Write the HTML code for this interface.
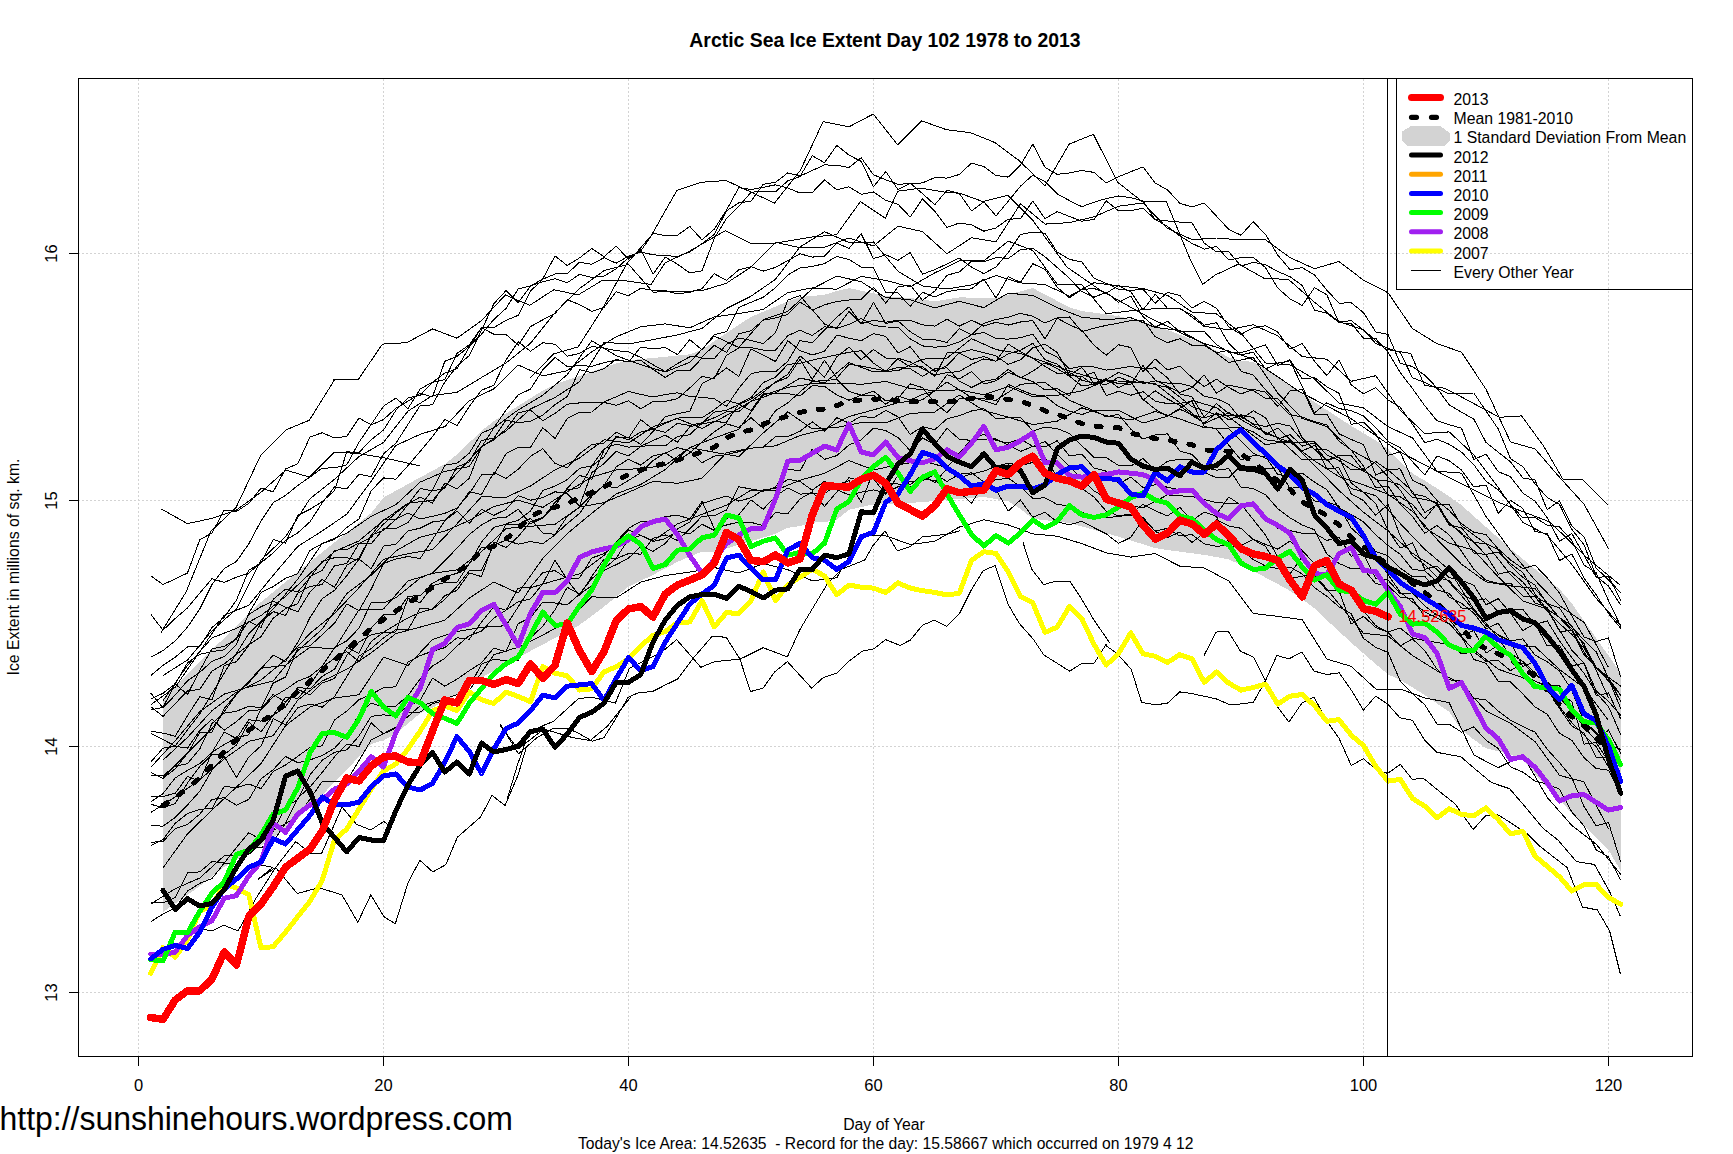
<!DOCTYPE html>
<html><head><meta charset="utf-8"><title>Arctic Sea Ice Extent</title>
<style>html,body{margin:0;padding:0;background:#fff;}svg{display:block;}</style></head>
<body><svg width="1733" height="1154" viewBox="0 0 1733 1154">
<rect width="1733" height="1154" fill="#fff"/>
<g stroke="#d3d3d3" stroke-width="1" stroke-dasharray="2 2" shape-rendering="crispEdges"><line x1="138.5" y1="79" x2="138.5" y2="1056" /><line x1="383.5" y1="79" x2="383.5" y2="1056" /><line x1="628.5" y1="79" x2="628.5" y2="1056" /><line x1="873.5" y1="79" x2="873.5" y2="1056" /><line x1="1118.5" y1="79" x2="1118.5" y2="1056" /><line x1="1363.5" y1="79" x2="1363.5" y2="1056" /><line x1="1608.5" y1="79" x2="1608.5" y2="1056" /><line x1="78" y1="992.5" x2="1692" y2="992.5" /><line x1="78" y1="746.5" x2="1692" y2="746.5" /><line x1="78" y1="500.5" x2="1692" y2="500.5" /><line x1="78" y1="253.5" x2="1692" y2="253.5" /></g>
<polygon points="163.00,698.80 175.25,686.51 187.50,674.21 199.75,661.92 212.00,649.83 224.25,637.87 236.50,625.91 248.75,613.96 261.00,602.00 273.25,592.00 285.50,582.00 297.75,572.00 310.00,562.00 322.25,552.11 334.50,542.33 346.75,532.56 359.00,522.78 371.25,513.00 383.50,497.57 395.75,490.81 408.00,484.06 420.25,477.36 432.50,470.75 444.75,464.14 457.00,454.44 469.25,442.66 481.50,430.89 493.75,421.18 506.00,413.53 518.25,405.88 530.50,398.24 542.75,390.59 555.00,384.32 567.25,380.12 579.50,375.92 591.75,371.72 604.00,367.52 616.25,363.32 628.50,360.33 640.75,359.14 653.00,357.95 665.25,356.77 677.50,355.58 689.75,354.39 702.00,349.64 714.25,341.31 726.50,332.99 738.75,324.66 751.00,316.96 763.25,311.76 775.50,306.56 787.75,301.36 800.00,297.00 812.25,296.00 824.50,294.74 836.75,291.14 849.00,288.15 861.25,290.68 873.50,293.20 885.75,296.20 898.00,297.12 910.25,298.03 922.50,299.52 934.75,301.40 947.00,299.40 959.25,297.40 971.50,297.59 983.75,298.01 996.00,298.06 1008.25,294.71 1020.50,291.35 1032.75,288.00 1045.00,294.47 1057.25,300.94 1069.50,307.41 1081.75,311.01 1094.00,312.68 1106.25,314.36 1118.50,316.26 1130.75,319.04 1143.00,321.83 1155.25,325.35 1167.50,329.98 1179.75,334.61 1192.00,339.23 1204.25,344.06 1216.50,350.70 1228.75,357.34 1241.00,360.71 1253.25,361.88 1265.50,369.31 1277.75,377.44 1290.00,385.56 1302.25,393.70 1314.50,401.85 1326.75,410.00 1339.00,418.14 1351.25,425.81 1363.50,433.16 1375.75,440.52 1388.00,448.96 1400.25,461.76 1412.50,473.43 1424.75,480.57 1437.00,488.46 1449.25,496.54 1461.50,505.18 1473.75,516.09 1486.00,527.00 1498.25,537.91 1510.50,548.82 1522.75,559.00 1535.00,569.00 1547.25,579.00 1559.50,589.00 1571.75,603.43 1584.00,620.83 1596.25,638.22 1608.50,655.61 1620.75,673.00 1620.75,871.00 1608.50,850.00 1596.25,837.60 1584.00,825.20 1571.75,812.80 1559.50,800.40 1547.25,788.00 1535.00,774.00 1522.75,760.00 1510.50,754.50 1498.25,751.20 1486.00,748.20 1473.75,739.48 1461.50,730.13 1449.25,712.00 1437.00,703.50 1424.75,695.00 1412.50,687.41 1400.25,680.04 1388.00,674.35 1375.75,664.18 1363.50,653.48 1351.25,642.65 1339.00,631.47 1326.75,620.00 1314.50,608.33 1302.25,599.26 1290.00,590.84 1277.75,584.09 1265.50,577.51 1253.25,570.99 1241.00,564.88 1228.75,559.52 1216.50,557.09 1204.25,554.91 1192.00,553.26 1179.75,551.62 1167.50,549.98 1155.25,548.12 1143.00,544.28 1130.75,540.45 1118.50,536.66 1106.25,533.24 1094.00,529.83 1081.75,526.41 1069.50,523.00 1057.25,521.59 1045.00,520.19 1032.75,518.78 1020.50,509.07 1008.25,501.17 996.00,499.08 983.75,497.00 971.50,498.00 959.25,499.00 947.00,500.00 934.75,501.00 922.50,502.00 910.25,503.00 898.00,503.47 885.75,503.93 873.50,504.40 861.25,507.10 849.00,509.80 836.75,519.60 824.50,522.20 812.25,522.60 800.00,526.10 787.75,527.80 775.50,533.90 763.25,537.55 751.00,541.20 738.75,544.83 726.50,548.47 714.25,552.10 702.00,551.50 689.75,556.70 677.50,561.90 665.25,568.40 653.00,574.90 640.75,580.75 628.50,586.60 616.25,596.65 604.00,606.70 591.75,615.85 579.50,625.00 567.25,631.50 555.00,638.00 542.75,644.50 530.50,651.00 518.25,657.50 506.00,664.00 493.75,670.85 481.50,677.70 469.25,686.15 457.00,694.60 444.75,701.10 432.50,707.60 420.25,713.23 408.00,723.55 395.75,733.87 383.50,740.25 371.25,744.00 359.00,756.78 346.75,769.56 334.50,782.33 322.25,794.86 310.00,807.00 297.75,819.14 285.50,829.03 273.25,837.42 261.00,845.81 248.75,853.26 236.50,859.78 224.25,866.92 212.00,876.50 199.75,886.08 187.50,894.86 175.25,903.43 163.00,912.00" fill="#d3d3d3" stroke="none" shape-rendering="crispEdges"/>
<polyline points="161.1,632.3 186.0,592.1 211.0,531.1 236.0,507.6 260.9,454.9 285.9,429.9 309.4,420.2 334.4,380.0 333.8,379.8 358.1,379.8 382.4,344.1 406.6,342.7 432.6,328.9 456.9,338.2 481.2,320.9 505.4,294.9 529.7,305.3 553.9,289.7 578.2,294.9 602.5,280.3 626.7,281.0 651.0,284.5 665.0,263.0 688.9,251.5 725.2,230.7 750.2,243.2 775.1,243.2 812.6,236.9 836.5,234.8 860.4,201.6 885.3,218.2 897.8,191.2 920.7,188.1 945.6,192.2 960.0,193.3 982.9,201.6 1007.9,195.4 1032.8,220.4 1067.1,267.2 1100.0,290.0 1150.0,318.0 1200.0,342.0 1250.0,358.0 1300.0,392.0 1350.0,418.0 1400.0,452.0 1450.0,478.0 1500.0,503.0 1550.0,522.0 1585.0,556.0 1620.0,585.0" fill="none" stroke="#000" stroke-width="1" stroke-linejoin="round" shape-rendering="crispEdges"/>
<polyline points="161.1,508.9 187.4,523.6 211.0,518.6 236.0,510.3 260.9,492.3 285.9,470.1 309.4,477.1 334.4,452.1 358.0,453.5 382.9,457.6 420.4,466.0" fill="none" stroke="#000" stroke-width="1" stroke-linejoin="round" shape-rendering="crispEdges"/>
<polyline points="529.7,378.1 553.9,353.8 578.2,346.9 602.5,308.8 626.7,263.7 651.0,236.0 677.0,190.2 701.3,182.3 725.5,180.5 726.0,180.5 748.5,190.9 774.5,203.1 800.5,170.1 823.1,121.6 849.0,126.8 873.3,114.0 897.6,144.8 921.8,120.9 946.1,129.6 970.4,132.7 994.6,142.4 1018.9,160.4 1044.9,185.7 1069.2,144.1 1093.4,134.4 1117.7,182.3 1141.9,201.3 1166.2,201.3 1190.5,260.2 1202.6,284.5 1215.3,275.0 1238.7,264.0 1263.7,278.1 1288.7,279.6 1313.6,301.5 1338.6,321.6 1363.5,329.9 1385.7,349.3 1410.7,353.5 1424.5,385.4 1443.9,388.1 1460.6,396.5 1499.4,417.3 1521.6,415.9 1543.8,446.4 1563.2,479.7 1582.6,479.7 1607.5,504.6" fill="none" stroke="#000" stroke-width="1" stroke-linejoin="round" shape-rendering="crispEdges"/>
<polyline points="500.0,723.9 518.5,753.9 536.9,737.7 553.1,728.5 566.9,728.5 576.2,732.0 592.3,741.2 603.9,737.7 615.4,719.3 628.1,697.3 638.5,692.7 652.3,691.6 666.2,684.6 677.7,678.9 692.7,658.8 712.3,636.2 726.2,637.3 740.0,659.2 750.4,691.6 763.1,688.1 774.7,671.9 787.4,661.6 811.6,688.1 823.1,677.7 837.0,673.1 848.5,661.6 862.4,651.2 873.9,648.9 885.5,639.6 900.0,645.4 910.3,640.1 922.4,625.3 934.5,620.1 946.7,626.2 959.7,613.2 970.9,590.7 983.1,570.7 995.2,565.5 1008.2,604.5 1019.4,623.6 1033.3,639.2 1043.7,654.8 1069.7,671.2 1081.8,663.4 1094.0,663.4 1106.1,644.4 1105.2,645.1 1117.3,653.7 1131.2,669.3 1141.6,702.3 1155.5,704.9 1167.6,703.1 1179.7,691.9 1191.9,693.6 1204.0,696.2 1216.1,698.8 1228.2,704.0 1240.4,704.0 1253.4,702.3 1265.5,680.6 1276.8,655.5 1288.9,658.9 1301.9,652.0 1314.0,671.1 1327.0,674.5 1339.2,672.8 1351.3,690.1 1363.4,710.1 1375.6,696.2 1387.7,704.0 1400.0,717.9 1412.5,720.4 1424.6,740.1 1436.7,752.3 1461.0,756.8 1473.2,767.4 1491.4,782.6 1509.6,788.7 1527.8,809.9 1542.9,828.1 1558.1,840.2 1576.3,861.5 1594.5,864.5 1609.7,891.8 1620.3,916.1" fill="none" stroke="#000" stroke-width="1" stroke-linejoin="round" shape-rendering="crispEdges"/>
<polyline points="553.1,721.6 578.5,698.5 592.3,697.3 615.4,703.1 629.3,668.5 647.7,659.2 661.6,652.3 676.6,639.6 700.8,667.3 714.7,661.6 740.0,659.2 763.1,647.7 787.4,656.9 800.1,629.2 813.9,606.2 827.8,583.1 841.6,569.2 864.7,560.0 873.0,545.6 885.1,530.9 897.3,550.8 910.3,546.5 922.4,536.9 946.7,534.3 959.7,530.9" fill="none" stroke="#000" stroke-width="1" stroke-linejoin="round" shape-rendering="crispEdges"/>
<polyline points="506.9,800.0 517.3,765.4 527.7,735.4 541.5,726.2 553.1,721.6" fill="none" stroke="#000" stroke-width="1" stroke-linejoin="round" shape-rendering="crispEdges"/>
<polyline points="1022.9,542.1 1031.6,569.0 1043.7,584.6 1055.8,581.1 1069.7,581.1 1081.8,599.3 1094.0,620.1 1109.6,642.7" fill="none" stroke="#000" stroke-width="1" stroke-linejoin="round" shape-rendering="crispEdges"/>
<polyline points="1204.0,655.5 1216.1,632.1 1228.2,631.2 1240.4,651.1 1253.4,657.2 1265.5,680.6 1276.8,705.7 1288.9,722.2 1301.9,703.1 1314.0,697.1 1327.0,721.3 1339.2,738.6 1351.3,765.5 1363.4,758.6 1377.3,770.7 1387.7,773.3 1400.3,764.4 1412.5,779.6 1423.1,778.0 1439.8,791.7 1455.0,803.8 1473.2,829.6 1485.3,816.0 1497.4,814.5 1509.6,822.0 1527.8,834.2 1539.9,846.3 1567.2,867.6 1582.4,907.0 1597.5,910.0 1609.7,931.3 1620.3,973.7" fill="none" stroke="#000" stroke-width="1" stroke-linejoin="round" shape-rendering="crispEdges"/>
<polyline points="259.8,864.8 272.8,867.4 258.3,879.1 275.6,867.5 297.2,893.5 318.9,887.7 342.0,894.9 357.8,922.4 370.8,894.9 383.8,916.6 395.3,923.8 408.3,882.0 419.9,860.3 432.8,871.9 445.8,864.7 457.4,837.2 480.5,817.0 492.0,795.4 505.0,805.5 518.0,775.2 526.6,746.4" fill="none" stroke="#000" stroke-width="1" stroke-linejoin="round" shape-rendering="crispEdges"/>
<polyline points="197.7,928.1 212.1,931.0 223.7,925.2 238.1,931.0 255.4,899.3 275.6,867.5 295.8,841.6 310.2,853.1 321.8,853.1 342.0,806.9 356.4,824.3 370.8,830.0 383.8,821.4 391.0,827.1" fill="none" stroke="#000" stroke-width="1" stroke-linejoin="round" shape-rendering="crispEdges"/>
<polyline points="500.6,726.2 518.0,749.2 543.9,729.0 572.8,737.7 590.1,740.6 607.4,726.2 630.5,697.3" fill="none" stroke="#000" stroke-width="1" stroke-linejoin="round" shape-rendering="crispEdges"/>
<polyline points="150.8,904.0 175.2,888.7 199.8,878.0 224.2,855.8 248.8,854.5 273.2,830.6 297.8,816.5 322.2,781.5 346.8,780.9 371.2,740.0 395.8,727.2 420.2,705.8 444.8,698.9 469.2,690.5 493.8,654.8 518.2,647.2 542.8,635.1 567.2,621.8 591.8,596.8 616.2,597.9 640.8,582.1 665.2,575.5 689.8,572.1 714.2,567.5 738.8,573.0 763.2,563.7 787.8,569.7 812.2,580.8 836.8,577.8 861.2,534.5 885.8,535.9 910.2,544.5 934.8,541.3 959.2,527.1 983.8,519.8 1008.2,524.9 1032.8,533.9 1057.2,536.2 1081.8,543.6 1106.2,552.8 1130.8,557.1 1155.2,553.6 1179.8,566.2 1204.2,568.0 1228.8,581.0 1253.2,613.4 1277.8,616.4 1302.2,619.7 1326.8,659.0 1351.2,666.4 1375.8,689.0 1400.2,689.0 1424.8,697.9 1449.2,702.7 1473.8,755.0 1498.2,767.7 1522.8,755.2 1547.2,797.4 1571.8,825.4 1596.2,844.2 1620.8,874.5" fill="none" stroke="#000" stroke-width="1" stroke-linejoin="round" shape-rendering="crispEdges"/>
<polyline points="150.8,902.3 163.0,902.9 175.2,897.6 187.5,872.9 199.8,871.9 212.0,861.5 224.2,862.9 236.5,865.4 248.8,846.4 261.0,847.7 273.2,841.7 285.5,823.4 297.8,798.0 310.0,787.1 322.2,772.4 334.5,756.8 346.8,744.1 359.0,746.5 371.2,722.9 383.5,733.9 395.8,728.0 408.0,712.0 420.2,712.0 432.5,703.7 444.8,700.6 457.0,702.8 469.2,687.2 481.5,664.1 493.8,659.2 506.0,660.8 518.2,660.2 530.5,638.1 542.8,626.0 555.0,610.0 567.2,587.3 579.5,594.0 591.8,578.6 604.0,568.8 616.2,558.3 628.5,539.1 640.8,535.5 653.0,541.5 665.2,538.7 677.5,531.2 689.8,533.9 702.0,524.3 714.2,530.4 726.5,518.4 738.8,514.7 751.0,499.9 763.2,509.3 775.5,496.2 787.8,488.0 800.0,494.1 812.2,493.4 824.5,493.6 836.8,484.7 849.0,480.6 861.2,502.4 873.5,471.2 885.8,483.6 898.0,484.0 910.2,487.3 922.5,479.3 934.8,480.3 947.0,490.2 959.2,491.9 971.5,503.3 983.8,483.8 996.0,489.8 1008.2,511.1 1020.5,500.0 1032.8,517.3 1045.0,512.3 1057.2,522.0 1069.5,524.7 1081.8,521.3 1094.0,527.7 1106.2,533.8 1118.5,543.4 1130.8,537.4 1143.0,519.3 1155.2,530.9 1167.5,528.4 1179.8,535.9 1192.0,534.6 1204.2,543.8 1216.5,546.4 1228.8,544.9 1241.0,549.3 1253.2,559.6 1265.5,566.0 1277.8,568.6 1290.0,567.0 1302.2,573.9 1314.5,587.7 1326.8,596.2 1339.0,606.9 1351.2,613.8 1363.5,638.4 1375.8,647.4 1388.0,652.4 1400.2,680.9 1412.5,693.6 1424.8,704.9 1437.0,724.0 1449.2,724.1 1461.5,732.1 1473.8,726.9 1486.0,740.3 1498.2,748.5 1510.5,766.9 1522.8,772.1 1535.0,781.2 1547.2,784.1 1559.5,789.2 1571.8,812.0 1584.0,825.8 1596.2,849.8 1608.5,857.0 1620.8,880.2" fill="none" stroke="#000" stroke-width="1" stroke-linejoin="round" shape-rendering="crispEdges"/>
<polyline points="150.8,921.7 163.0,914.0 175.2,907.9 187.5,891.1 199.8,883.3 212.0,878.5 224.2,863.2 236.5,847.5 248.8,832.7 261.0,839.7 273.2,832.0 285.5,806.6 297.8,799.7 310.0,774.8 322.2,760.3 334.5,752.3 346.8,749.9 359.0,735.9 371.2,716.4 383.5,714.8 395.8,716.1 408.0,706.1 420.2,700.4 432.5,678.1 444.8,686.2 457.0,679.2 469.2,670.7 481.5,662.9 493.8,648.1 506.0,651.7 518.2,623.6 530.5,617.6 542.8,602.0 555.0,603.0 567.2,604.9 579.5,594.2 591.8,585.8 604.0,570.2 616.2,564.7 628.5,558.2 640.8,546.1 653.0,551.3 665.2,543.5 677.5,529.0 689.8,522.0 702.0,503.5 714.2,499.6 726.5,496.1 738.8,501.1 751.0,497.8 763.2,490.0 775.5,488.4 787.8,479.2 800.0,481.5 812.2,490.2 824.5,481.3 836.8,489.5 849.0,495.0 861.2,492.2 873.5,489.9 885.8,492.9 898.0,486.8 910.2,481.3 922.5,480.8 934.8,474.2 947.0,481.4 959.2,474.2 971.5,472.8 983.8,481.9 996.0,479.9 1008.2,478.0 1020.5,486.8 1032.8,498.4 1045.0,497.8 1057.2,504.5 1069.5,505.7 1081.8,512.5 1094.0,515.4 1106.2,517.9 1118.5,516.2 1130.8,515.6 1143.0,517.4 1155.2,531.3 1167.5,537.7 1179.8,532.0 1192.0,542.3 1204.2,533.1 1216.5,519.8 1228.8,525.9 1241.0,528.3 1253.2,539.5 1265.5,546.5 1277.8,565.6 1290.0,574.0 1302.2,556.8 1314.5,576.1 1326.8,590.4 1339.0,590.8 1351.2,624.0 1363.5,616.3 1375.8,627.6 1388.0,632.2 1400.2,645.9 1412.5,638.9 1424.8,650.7 1437.0,669.2 1449.2,679.9 1461.5,680.8 1473.8,698.3 1486.0,699.9 1498.2,711.1 1510.5,720.2 1522.8,726.6 1535.0,732.1 1547.2,749.3 1559.5,762.7 1571.8,777.7 1584.0,806.4 1596.2,825.9 1608.5,822.5 1620.8,862.2" fill="none" stroke="#000" stroke-width="1" stroke-linejoin="round" shape-rendering="crispEdges"/>
<polyline points="163.0,867.9 187.5,833.8 212.0,810.0 236.5,787.1 261.0,763.7 285.5,725.7 310.0,707.0 334.5,698.1 359.0,694.7 383.5,657.2 408.0,665.4 432.5,639.6 457.0,631.5 481.5,627.4 506.0,625.7 530.5,587.8 555.0,580.5 579.5,573.9 604.0,555.4 628.5,529.8 653.0,540.9 677.5,523.9 702.0,514.3 726.5,505.2 751.0,490.1 775.5,490.3 800.0,480.2 824.5,473.4 849.0,460.6 873.5,469.9 898.0,464.8 922.5,460.9 947.0,467.6 971.5,439.2 996.0,438.9 1020.5,451.4 1045.0,441.5 1069.5,466.8 1094.0,491.1 1118.5,503.8 1143.0,507.8 1167.5,494.9 1192.0,496.6 1216.5,502.6 1241.0,504.1 1265.5,535.1 1290.0,578.4 1314.5,574.0 1339.0,604.0 1363.5,633.3 1388.0,635.9 1412.5,655.5 1437.0,670.8 1461.5,684.5 1486.0,710.8 1510.5,723.2 1535.0,741.5 1559.5,775.4 1584.0,781.9 1608.5,828.7" fill="none" stroke="#000" stroke-width="1" stroke-linejoin="round" shape-rendering="crispEdges"/>
<polyline points="150.8,845.8 163.0,839.7 175.2,823.4 187.5,813.5 199.8,809.3 212.0,808.5 224.2,786.4 236.5,787.6 248.8,784.0 261.0,788.6 273.2,771.5 285.5,765.0 297.8,756.3 310.0,747.4 322.2,745.8 334.5,719.9 346.8,711.1 359.0,699.7 371.2,694.3 383.5,687.8 395.8,686.8 408.0,662.1 420.2,655.5 432.5,651.3 444.8,647.6 457.0,637.8 469.2,639.2 481.5,622.2 493.8,606.7 506.0,610.3 518.2,588.2 530.5,587.0 542.8,572.6 555.0,570.6 567.2,578.6 579.5,578.0 591.8,558.0 604.0,553.7 616.2,542.0 628.5,528.2 640.8,521.4 653.0,521.7 665.2,516.7 677.5,515.1 689.8,519.0 702.0,501.4 714.2,528.4 726.5,525.0 738.8,522.0 751.0,522.3 763.2,525.7 775.5,512.6 787.8,513.7 800.0,499.0 812.2,491.8 824.5,506.3 836.8,492.1 849.0,477.6 861.2,481.2 873.5,478.7 885.8,494.4 898.0,475.2 910.2,484.8 922.5,474.7 934.8,482.7 947.0,468.4 959.2,477.6 971.5,474.0 983.8,471.2 996.0,466.2 1008.2,463.1 1020.5,465.7 1032.8,462.4 1045.0,457.3 1057.2,477.2 1069.5,480.6 1081.8,488.5 1094.0,497.0 1106.2,511.2 1118.5,515.8 1130.8,514.0 1143.0,504.3 1155.2,510.7 1167.5,516.0 1179.8,507.3 1192.0,520.8 1204.2,512.0 1216.5,516.4 1228.8,542.4 1241.0,545.6 1253.2,539.2 1265.5,544.4 1277.8,549.1 1290.0,541.0 1302.2,550.6 1314.5,563.6 1326.8,567.9 1339.0,581.8 1351.2,592.4 1363.5,610.8 1375.8,625.7 1388.0,632.1 1400.2,628.0 1412.5,638.0 1424.8,640.6 1437.0,642.5 1449.2,644.5 1461.5,653.8 1473.8,652.0 1486.0,661.3 1498.2,660.5 1510.5,670.7 1522.8,663.0 1535.0,675.0 1547.2,682.0 1559.5,692.3 1571.8,701.7 1584.0,744.1 1596.2,742.6 1608.5,761.6 1620.8,794.7" fill="none" stroke="#000" stroke-width="1" stroke-linejoin="round" shape-rendering="crispEdges"/>
<polyline points="150.8,842.2 163.0,841.6 175.2,828.5 187.5,824.4 199.8,814.1 212.0,799.5 224.2,797.7 236.5,805.3 248.8,799.4 261.0,779.0 273.2,769.7 285.5,756.5 297.8,762.7 310.0,759.9 322.2,755.5 334.5,748.3 346.8,734.9 359.0,714.3 371.2,703.1 383.5,707.0 395.8,706.1 408.0,695.5 420.2,678.8 432.5,666.1 444.8,658.4 457.0,646.1 469.2,635.7 481.5,631.2 493.8,618.1 506.0,610.2 518.2,601.7 530.5,598.9 542.8,583.8 555.0,560.2 567.2,579.7 579.5,595.9 591.8,576.3 604.0,559.1 616.2,558.6 628.5,553.6 640.8,554.1 653.0,538.3 665.2,534.9 677.5,540.5 689.8,528.8 702.0,516.2 714.2,515.7 726.5,510.0 738.8,486.8 751.0,489.0 763.2,491.2 775.5,487.1 787.8,468.9 800.0,471.0 812.2,449.2 824.5,459.3 836.8,455.6 849.0,445.0 861.2,439.9 873.5,428.1 885.8,430.6 898.0,437.5 910.2,450.7 922.5,437.9 934.8,444.4 947.0,428.3 959.2,439.2 971.5,440.4 983.8,434.3 996.0,440.3 1008.2,443.1 1020.5,438.8 1032.8,446.5 1045.0,447.0 1057.2,440.7 1069.5,456.0 1081.8,454.0 1094.0,468.0 1106.2,471.2 1118.5,483.8 1130.8,477.2 1143.0,487.4 1155.2,484.7 1167.5,487.2 1179.8,489.9 1192.0,492.7 1204.2,499.9 1216.5,514.0 1228.8,497.1 1241.0,505.1 1253.2,504.1 1265.5,518.3 1277.8,528.6 1290.0,530.5 1302.2,533.3 1314.5,533.1 1326.8,540.5 1339.0,537.1 1351.2,556.2 1363.5,554.0 1375.8,578.2 1388.0,580.1 1400.2,593.7 1412.5,592.9 1424.8,605.9 1437.0,615.0 1449.2,619.1 1461.5,635.3 1473.8,630.5 1486.0,653.1 1498.2,645.2 1510.5,653.5 1522.8,661.4 1535.0,672.6 1547.2,685.7 1559.5,708.5 1571.8,726.0 1584.0,733.1 1596.2,757.6 1608.5,758.0 1620.8,780.4" fill="none" stroke="#000" stroke-width="1" stroke-linejoin="round" shape-rendering="crispEdges"/>
<polyline points="150.8,812.5 175.2,797.0 199.8,779.7 224.2,758.9 248.8,741.4 273.2,735.7 297.8,700.1 322.2,681.1 346.8,669.3 371.2,652.9 395.8,633.6 420.2,627.1 444.8,620.3 469.2,598.2 493.8,582.0 518.2,593.1 542.8,558.5 567.2,533.6 591.8,513.3 616.2,493.9 640.8,484.5 665.2,469.5 689.8,447.6 714.2,452.3 738.8,456.5 763.2,433.0 787.8,411.9 812.2,428.9 836.8,427.5 861.2,422.6 885.8,422.8 910.2,413.5 934.8,412.0 959.2,395.0 983.8,410.5 1008.2,417.2 1032.8,424.6 1057.2,421.2 1081.8,407.8 1106.2,415.7 1130.8,420.0 1155.2,411.4 1179.8,419.0 1204.2,427.6 1228.8,428.7 1253.2,453.4 1277.8,462.8 1302.2,488.8 1326.8,504.0 1351.2,520.8 1375.8,556.9 1400.2,592.2 1424.8,611.8 1449.2,624.2 1473.8,649.8 1498.2,669.2 1522.8,677.7 1547.2,690.0 1571.8,722.7 1596.2,746.9 1620.8,786.9" fill="none" stroke="#000" stroke-width="1" stroke-linejoin="round" shape-rendering="crispEdges"/>
<polyline points="150.8,825.5 163.0,826.2 175.2,817.4 187.5,805.0 199.8,791.2 212.0,770.1 224.2,756.4 236.5,777.5 248.8,757.0 261.0,745.9 273.2,718.8 285.5,724.8 297.8,707.6 310.0,704.0 322.2,707.2 334.5,696.5 346.8,676.5 359.0,656.1 371.2,648.5 383.5,637.9 395.8,629.6 408.0,629.8 420.2,608.3 432.5,609.3 444.8,599.3 457.0,586.3 469.2,571.0 481.5,570.1 493.8,545.1 506.0,540.2 518.2,544.2 530.5,541.5 542.8,543.7 555.0,534.9 567.2,523.6 579.5,513.5 591.8,496.3 604.0,485.3 616.2,466.9 628.5,459.2 640.8,465.1 653.0,455.8 665.2,453.3 677.5,447.5 689.8,451.2 702.0,462.8 714.2,456.1 726.5,454.7 738.8,451.7 751.0,448.2 763.2,447.1 775.5,436.8 787.8,436.6 800.0,431.3 812.2,421.9 824.5,431.0 836.8,417.7 849.0,423.1 861.2,416.2 873.5,417.9 885.8,410.5 898.0,416.8 910.2,434.4 922.5,426.6 934.8,429.6 947.0,418.8 959.2,415.7 971.5,411.0 983.8,408.7 996.0,418.6 1008.2,417.8 1020.5,417.2 1032.8,430.9 1045.0,427.1 1057.2,428.6 1069.5,433.5 1081.8,445.6 1094.0,457.3 1106.2,457.6 1118.5,465.4 1130.8,466.0 1143.0,458.5 1155.2,470.1 1167.5,461.3 1179.8,459.3 1192.0,459.7 1204.2,472.5 1216.5,477.7 1228.8,477.7 1241.0,465.8 1253.2,466.4 1265.5,468.8 1277.8,467.8 1290.0,488.5 1302.2,486.4 1314.5,501.0 1326.8,502.1 1339.0,506.1 1351.2,528.0 1363.5,539.1 1375.8,551.5 1388.0,555.7 1400.2,568.1 1412.5,576.7 1424.8,576.4 1437.0,589.9 1449.2,593.4 1461.5,608.0 1473.8,609.2 1486.0,625.5 1498.2,634.9 1510.5,640.9 1522.8,638.9 1535.0,655.1 1547.2,661.7 1559.5,671.0 1571.8,690.3 1584.0,721.8 1596.2,732.0 1608.5,745.0 1620.8,749.5" fill="none" stroke="#000" stroke-width="1" stroke-linejoin="round" shape-rendering="crispEdges"/>
<polyline points="150.8,796.0 163.0,796.5 175.2,793.2 187.5,776.6 199.8,780.9 212.0,752.3 224.2,744.5 236.5,737.6 248.8,734.8 261.0,709.1 273.2,694.4 285.5,702.1 297.8,689.3 310.0,694.8 322.2,682.9 334.5,678.6 346.8,655.3 359.0,642.2 371.2,634.7 383.5,632.4 395.8,632.0 408.0,598.1 420.2,602.8 432.5,585.8 444.8,582.4 457.0,582.3 469.2,563.9 481.5,547.5 493.8,548.5 506.0,523.7 518.2,520.3 530.5,511.0 542.8,490.6 555.0,486.1 567.2,479.7 579.5,468.4 591.8,465.8 604.0,448.8 616.2,444.1 628.5,447.1 640.8,446.2 653.0,440.5 665.2,435.2 677.5,442.2 689.8,426.9 702.0,423.9 714.2,421.7 726.5,422.3 738.8,404.1 751.0,410.6 763.2,393.4 775.5,394.0 787.8,393.6 800.0,396.0 812.2,385.6 824.5,386.4 836.8,395.0 849.0,400.2 861.2,395.2 873.5,391.1 885.8,400.9 898.0,398.4 910.2,383.9 922.5,387.6 934.8,402.8 947.0,412.8 959.2,398.9 971.5,397.3 983.8,400.7 996.0,404.8 1008.2,384.4 1020.5,389.8 1032.8,394.7 1045.0,396.0 1057.2,405.6 1069.5,411.2 1081.8,414.6 1094.0,410.3 1106.2,416.9 1118.5,414.3 1130.8,429.2 1143.0,439.1 1155.2,434.8 1167.5,433.9 1179.8,451.1 1192.0,454.4 1204.2,467.3 1216.5,470.2 1228.8,468.6 1241.0,487.2 1253.2,488.4 1265.5,494.7 1277.8,508.7 1290.0,517.8 1302.2,525.0 1314.5,529.8 1326.8,554.0 1339.0,563.4 1351.2,568.8 1363.5,569.1 1375.8,583.7 1388.0,585.7 1400.2,597.1 1412.5,598.8 1424.8,616.9 1437.0,614.5 1449.2,623.7 1461.5,636.6 1473.8,659.5 1486.0,663.2 1498.2,681.1 1510.5,681.9 1522.8,694.0 1535.0,706.8 1547.2,714.3 1559.5,733.3 1571.8,740.3 1584.0,757.7 1596.2,768.5 1608.5,770.2 1620.8,794.3" fill="none" stroke="#000" stroke-width="1" stroke-linejoin="round" shape-rendering="crispEdges"/>
<polyline points="163.0,777.5 187.5,752.8 212.0,728.7 236.5,694.4 261.0,668.3 285.5,665.2 310.0,647.1 334.5,648.9 359.0,609.7 383.5,609.0 408.0,581.0 432.5,573.4 457.0,569.8 481.5,551.7 506.0,528.5 530.5,526.3 555.0,524.3 579.5,507.1 604.0,502.6 628.5,492.3 653.0,481.4 677.5,483.3 702.0,478.3 726.5,452.7 751.0,448.2 775.5,445.9 800.0,435.5 824.5,429.5 849.0,416.5 873.5,409.9 898.0,402.7 922.5,399.8 947.0,382.0 971.5,397.5 996.0,400.3 1020.5,384.3 1045.0,382.4 1069.5,400.3 1094.0,410.7 1118.5,410.2 1143.0,423.0 1167.5,416.3 1192.0,400.4 1216.5,407.6 1241.0,426.2 1265.5,444.8 1290.0,440.6 1314.5,465.5 1339.0,490.5 1363.5,512.3 1388.0,531.0 1412.5,553.2 1437.0,569.3 1461.5,595.5 1486.0,625.3 1510.5,644.7 1535.0,646.7 1559.5,669.4 1584.0,688.0 1608.5,720.5" fill="none" stroke="#000" stroke-width="1" stroke-linejoin="round" shape-rendering="crispEdges"/>
<polyline points="150.8,772.6 163.0,778.4 175.2,768.8 187.5,753.3 199.8,732.6 212.0,732.1 224.2,708.5 236.5,693.8 248.8,682.9 261.0,668.7 273.2,655.2 285.5,661.5 297.8,642.2 310.0,617.6 322.2,598.7 334.5,590.3 346.8,575.7 359.0,559.0 371.2,568.8 383.5,546.1 395.8,544.4 408.0,530.9 420.2,528.2 432.5,522.0 444.8,520.3 457.0,509.2 469.2,491.7 481.5,494.5 493.8,472.6 506.0,478.5 518.2,469.3 530.5,456.2 542.8,448.7 555.0,463.4 567.2,467.9 579.5,453.8 591.8,444.6 604.0,443.0 616.2,432.3 628.5,438.0 640.8,419.6 653.0,429.3 665.2,423.4 677.5,418.1 689.8,417.1 702.0,417.9 714.2,409.8 726.5,400.4 738.8,403.8 751.0,397.6 763.2,382.6 775.5,377.2 787.8,364.4 800.0,363.3 812.2,360.1 824.5,357.5 836.8,354.8 849.0,352.3 861.2,350.7 873.5,363.2 885.8,371.3 898.0,358.3 910.2,361.8 922.5,368.6 934.8,375.1 947.0,372.6 959.2,371.6 971.5,364.4 983.8,358.9 996.0,361.2 1008.2,353.9 1020.5,350.2 1032.8,343.3 1045.0,359.8 1057.2,364.0 1069.5,375.3 1081.8,376.4 1094.0,372.3 1106.2,395.6 1118.5,391.3 1130.8,395.2 1143.0,391.6 1155.2,401.2 1167.5,403.6 1179.8,403.3 1192.0,401.4 1204.2,426.3 1216.5,429.1 1228.8,445.1 1241.0,460.1 1253.2,455.4 1265.5,456.5 1277.8,474.7 1290.0,475.8 1302.2,473.1 1314.5,482.1 1326.8,489.7 1339.0,508.1 1351.2,514.5 1363.5,521.8 1375.8,534.8 1388.0,545.5 1400.2,554.3 1412.5,569.4 1424.8,570.8 1437.0,581.6 1449.2,597.0 1461.5,603.3 1473.8,613.1 1486.0,628.9 1498.2,623.2 1510.5,642.0 1522.8,666.6 1535.0,661.5 1547.2,685.8 1559.5,685.5 1571.8,710.1 1584.0,727.0 1596.2,740.7 1608.5,730.0 1620.8,753.8" fill="none" stroke="#000" stroke-width="1" stroke-linejoin="round" shape-rendering="crispEdges"/>
<polyline points="150.8,804.2 163.0,807.9 175.2,803.5 187.5,782.9 199.8,766.4 212.0,754.8 224.2,754.4 236.5,745.1 248.8,722.3 261.0,731.8 273.2,715.2 285.5,707.0 297.8,687.3 310.0,688.9 322.2,676.3 334.5,669.3 346.8,647.4 359.0,653.4 371.2,628.1 383.5,614.8 395.8,614.1 408.0,596.3 420.2,595.6 432.5,583.2 444.8,576.7 457.0,573.3 469.2,564.0 481.5,542.1 493.8,527.4 506.0,524.3 518.2,524.7 530.5,518.5 542.8,533.1 555.0,534.3 567.2,516.6 579.5,507.2 591.8,494.8 604.0,485.6 616.2,487.9 628.5,480.4 640.8,472.7 653.0,460.5 665.2,452.8 677.5,461.0 689.8,452.9 702.0,442.0 714.2,431.9 726.5,423.8 738.8,427.5 751.0,417.7 763.2,428.2 775.5,410.7 787.8,402.9 800.0,392.0 812.2,381.5 824.5,380.5 836.8,379.5 849.0,391.3 861.2,395.2 873.5,395.3 885.8,404.2 898.0,396.0 910.2,400.1 922.5,394.3 934.8,391.5 947.0,374.7 959.2,379.1 971.5,371.5 983.8,384.1 996.0,380.8 1008.2,372.2 1020.5,377.3 1032.8,381.5 1045.0,390.0 1057.2,388.7 1069.5,395.7 1081.8,376.1 1094.0,385.3 1106.2,379.9 1118.5,372.4 1130.8,376.8 1143.0,383.7 1155.2,380.9 1167.5,383.1 1179.8,383.4 1192.0,386.4 1204.2,396.3 1216.5,398.6 1228.8,404.2 1241.0,419.6 1253.2,410.7 1265.5,417.7 1277.8,439.2 1290.0,434.5 1302.2,446.1 1314.5,442.8 1326.8,468.9 1339.0,467.7 1351.2,493.8 1363.5,500.6 1375.8,515.3 1388.0,504.1 1400.2,535.7 1412.5,555.8 1424.8,564.9 1437.0,577.1 1449.2,580.8 1461.5,593.6 1473.8,600.8 1486.0,598.8 1498.2,611.7 1510.5,608.9 1522.8,609.4 1535.0,624.6 1547.2,620.9 1559.5,640.9 1571.8,657.6 1584.0,673.3 1596.2,692.9 1608.5,706.5 1620.8,735.0" fill="none" stroke="#000" stroke-width="1" stroke-linejoin="round" shape-rendering="crispEdges"/>
<polyline points="150.8,767.3 175.2,740.7 199.8,711.6 224.2,694.1 248.8,686.9 273.2,681.0 297.8,650.8 322.2,629.1 346.8,593.6 371.2,575.3 395.8,551.0 420.2,537.1 444.8,531.2 469.2,520.5 493.8,506.5 518.2,500.3 542.8,507.4 567.2,491.8 591.8,477.0 616.2,469.9 640.8,468.6 665.2,465.3 689.8,447.5 714.2,438.0 738.8,429.3 763.2,395.1 787.8,387.4 812.2,383.7 836.8,383.0 861.2,384.3 885.8,381.4 910.2,388.5 934.8,390.6 959.2,389.9 983.8,394.8 1008.2,386.5 1032.8,396.7 1057.2,395.4 1081.8,390.9 1106.2,380.5 1130.8,381.6 1155.2,383.6 1179.8,402.8 1204.2,423.7 1228.8,412.6 1253.2,426.6 1277.8,437.8 1302.2,459.9 1326.8,459.0 1351.2,488.4 1375.8,495.7 1400.2,523.5 1424.8,549.3 1449.2,569.9 1473.8,609.1 1498.2,637.5 1522.8,675.8 1547.2,686.3 1571.8,709.9 1596.2,733.5 1620.8,761.4" fill="none" stroke="#000" stroke-width="1" stroke-linejoin="round" shape-rendering="crispEdges"/>
<polyline points="150.8,775.7 163.0,775.6 175.2,766.2 187.5,763.7 199.8,748.9 212.0,723.5 224.2,713.1 236.5,711.3 248.8,706.2 261.0,707.8 273.2,683.2 285.5,677.0 297.8,648.0 310.0,645.9 322.2,634.7 334.5,623.2 346.8,604.0 359.0,610.5 371.2,589.2 383.5,563.5 395.8,559.0 408.0,556.5 420.2,558.6 432.5,539.7 444.8,520.6 457.0,511.2 469.2,523.4 481.5,509.4 493.8,515.3 506.0,509.4 518.2,495.6 530.5,500.2 542.8,497.7 555.0,491.8 567.2,493.5 579.5,506.2 591.8,472.5 604.0,463.6 616.2,451.5 628.5,455.9 640.8,446.4 653.0,445.2 665.2,446.0 677.5,436.4 689.8,434.7 702.0,423.0 714.2,412.1 726.5,410.4 738.8,404.5 751.0,399.1 763.2,390.1 775.5,382.4 787.8,377.5 800.0,359.3 812.2,379.5 824.5,360.2 836.8,378.1 849.0,364.2 861.2,366.1 873.5,368.4 885.8,371.0 898.0,367.4 910.2,368.7 922.5,376.4 934.8,368.9 947.0,367.8 959.2,381.0 971.5,387.5 983.8,381.3 996.0,379.1 1008.2,369.4 1020.5,378.0 1032.8,371.2 1045.0,362.8 1057.2,368.5 1069.5,376.3 1081.8,385.9 1094.0,384.4 1106.2,379.7 1118.5,383.5 1130.8,384.4 1143.0,365.6 1155.2,380.1 1167.5,386.5 1179.8,392.5 1192.0,387.6 1204.2,375.0 1216.5,393.2 1228.8,385.2 1241.0,387.5 1253.2,390.4 1265.5,398.5 1277.8,398.7 1290.0,413.0 1302.2,437.9 1314.5,449.3 1326.8,460.4 1339.0,457.2 1351.2,482.9 1363.5,492.2 1375.8,503.9 1388.0,530.1 1400.2,548.1 1412.5,543.0 1424.8,569.3 1437.0,565.9 1449.2,577.7 1461.5,580.3 1473.8,585.3 1486.0,604.7 1498.2,598.7 1510.5,613.1 1522.8,630.7 1535.0,623.4 1547.2,645.8 1559.5,645.2 1571.8,665.9 1584.0,663.0 1596.2,690.9 1608.5,701.4 1620.8,715.5" fill="none" stroke="#000" stroke-width="1" stroke-linejoin="round" shape-rendering="crispEdges"/>
<polyline points="150.8,801.8 163.0,793.6 175.2,777.9 187.5,770.4 199.8,763.7 212.0,752.4 224.2,732.0 236.5,738.7 248.8,719.7 261.0,721.1 273.2,715.2 285.5,697.4 297.8,698.2 310.0,684.9 322.2,667.1 334.5,658.4 346.8,651.7 359.0,661.5 371.2,641.5 383.5,632.3 395.8,624.9 408.0,617.9 420.2,612.5 432.5,608.8 444.8,595.8 457.0,590.3 469.2,573.0 481.5,576.6 493.8,542.0 506.0,547.6 518.2,536.6 530.5,521.7 542.8,517.5 555.0,505.9 567.2,488.3 579.5,475.4 591.8,479.2 604.0,450.2 616.2,437.4 628.5,437.1 640.8,444.4 653.0,431.6 665.2,416.8 677.5,413.7 689.8,411.3 702.0,383.7 714.2,377.2 726.5,367.9 738.8,376.4 751.0,348.9 763.2,355.2 775.5,361.5 787.8,340.7 800.0,350.6 812.2,355.0 824.5,351.3 836.8,335.0 849.0,338.2 861.2,340.7 873.5,333.6 885.8,336.4 898.0,352.9 910.2,346.7 922.5,362.1 934.8,371.3 947.0,365.5 959.2,353.0 971.5,359.5 983.8,356.5 996.0,361.3 1008.2,344.0 1020.5,351.9 1032.8,358.2 1045.0,366.4 1057.2,373.4 1069.5,372.5 1081.8,380.2 1094.0,382.9 1106.2,384.6 1118.5,377.2 1130.8,381.7 1143.0,400.3 1155.2,390.7 1167.5,399.0 1179.8,405.3 1192.0,415.3 1204.2,423.2 1216.5,412.6 1228.8,419.7 1241.0,414.8 1253.2,417.5 1265.5,434.6 1277.8,428.0 1290.0,439.5 1302.2,450.9 1314.5,445.4 1326.8,460.5 1339.0,455.1 1351.2,455.5 1363.5,470.9 1375.8,461.6 1388.0,470.0 1400.2,480.3 1412.5,491.2 1424.8,512.6 1437.0,504.9 1449.2,525.0 1461.5,527.8 1473.8,542.7 1486.0,543.4 1498.2,549.5 1510.5,565.8 1522.8,577.4 1535.0,585.1 1547.2,603.8 1559.5,617.8 1571.8,628.5 1584.0,652.3 1596.2,667.0 1608.5,678.4 1620.8,695.1" fill="none" stroke="#000" stroke-width="1" stroke-linejoin="round" shape-rendering="crispEdges"/>
<polyline points="163.0,760.1 187.5,737.4 212.0,710.7 236.5,692.1 261.0,680.0 285.5,659.6 310.0,633.4 334.5,613.4 359.0,587.7 383.5,559.3 408.0,553.7 432.5,549.6 457.0,523.8 481.5,496.7 506.0,497.4 530.5,486.0 555.0,469.9 579.5,458.1 604.0,439.8 628.5,443.0 653.0,426.8 677.5,418.6 702.0,428.4 726.5,415.5 751.0,401.5 775.5,392.8 800.0,378.1 824.5,383.0 849.0,362.6 873.5,371.9 898.0,370.7 922.5,359.1 947.0,358.1 971.5,338.7 996.0,349.6 1020.5,353.6 1045.0,362.0 1069.5,371.0 1094.0,378.2 1118.5,383.5 1143.0,381.8 1167.5,387.4 1192.0,406.6 1216.5,414.8 1241.0,415.7 1265.5,433.3 1290.0,442.1 1314.5,460.8 1339.0,476.7 1363.5,484.9 1388.0,494.2 1412.5,511.3 1437.0,539.3 1461.5,564.2 1486.0,581.9 1510.5,585.9 1535.0,588.5 1559.5,617.7 1584.0,643.4 1608.5,697.9" fill="none" stroke="#000" stroke-width="1" stroke-linejoin="round" shape-rendering="crispEdges"/>
<polyline points="150.8,762.0 163.0,748.2 175.2,746.4 187.5,748.1 199.8,730.5 212.0,719.1 224.2,730.2 236.5,721.6 248.8,710.6 261.0,709.8 273.2,696.9 285.5,689.5 297.8,681.2 310.0,676.4 322.2,666.3 334.5,647.6 346.8,640.8 359.0,628.2 371.2,602.6 383.5,602.9 395.8,597.8 408.0,588.0 420.2,578.1 432.5,572.8 444.8,560.7 457.0,548.2 469.2,534.6 481.5,524.9 493.8,518.2 506.0,517.4 518.2,509.2 530.5,523.9 542.8,518.0 555.0,502.4 567.2,490.0 579.5,487.8 591.8,466.2 604.0,456.9 616.2,436.2 628.5,439.6 640.8,432.0 653.0,429.2 665.2,432.4 677.5,423.4 689.8,425.4 702.0,422.7 714.2,417.7 726.5,411.7 738.8,411.7 751.0,401.4 763.2,392.3 775.5,382.1 787.8,374.3 800.0,355.9 812.2,366.0 824.5,377.2 836.8,356.9 849.0,347.1 861.2,359.7 873.5,349.5 885.8,358.0 898.0,359.2 910.2,366.9 922.5,366.5 934.8,376.7 947.0,352.9 959.2,352.8 971.5,349.6 983.8,352.6 996.0,355.9 1008.2,364.4 1020.5,359.8 1032.8,347.8 1045.0,344.2 1057.2,352.4 1069.5,375.0 1081.8,367.4 1094.0,383.4 1106.2,378.7 1118.5,387.8 1130.8,381.7 1143.0,399.2 1155.2,409.2 1167.5,416.4 1179.8,409.3 1192.0,414.7 1204.2,417.9 1216.5,413.7 1228.8,427.0 1241.0,427.8 1253.2,431.8 1265.5,439.8 1277.8,441.3 1290.0,442.8 1302.2,442.1 1314.5,441.8 1326.8,454.8 1339.0,460.5 1351.2,469.7 1363.5,468.9 1375.8,479.8 1388.0,480.9 1400.2,484.9 1412.5,497.5 1424.8,499.5 1437.0,502.4 1449.2,524.0 1461.5,532.4 1473.8,553.0 1486.0,554.5 1498.2,551.9 1510.5,563.6 1522.8,572.5 1535.0,594.0 1547.2,610.0 1559.5,630.2 1571.8,650.1 1584.0,663.1 1596.2,695.7 1608.5,692.9 1620.8,719.2" fill="none" stroke="#000" stroke-width="1" stroke-linejoin="round" shape-rendering="crispEdges"/>
<polyline points="150.8,698.9 163.0,693.3 175.2,684.0 187.5,662.8 199.8,654.3 212.0,651.6 224.2,649.8 236.5,638.0 248.8,614.5 261.0,606.7 273.2,601.0 285.5,607.1 297.8,611.8 310.0,591.8 322.2,579.5 334.5,587.3 346.8,565.3 359.0,557.9 371.2,535.1 383.5,530.5 395.8,519.3 408.0,513.0 420.2,519.0 432.5,516.3 444.8,513.3 457.0,508.1 469.2,493.8 481.5,474.9 493.8,475.0 506.0,453.7 518.2,447.3 530.5,447.3 542.8,427.7 555.0,438.4 567.2,418.6 579.5,412.4 591.8,412.0 604.0,401.9 616.2,396.8 628.5,391.4 640.8,394.4 653.0,397.0 665.2,394.6 677.5,392.8 689.8,396.5 702.0,397.3 714.2,398.7 726.5,406.4 738.8,388.3 751.0,373.7 763.2,371.1 775.5,371.9 787.8,361.2 800.0,340.6 812.2,342.8 824.5,330.0 836.8,317.2 849.0,306.8 861.2,323.8 873.5,302.4 885.8,323.5 898.0,320.9 910.2,331.7 922.5,339.1 934.8,339.7 947.0,342.4 959.2,328.8 971.5,334.8 983.8,332.4 996.0,338.7 1008.2,339.1 1020.5,337.7 1032.8,334.1 1045.0,351.3 1057.2,357.1 1069.5,368.9 1081.8,366.1 1094.0,366.9 1106.2,370.1 1118.5,368.5 1130.8,366.4 1143.0,368.5 1155.2,367.9 1167.5,377.9 1179.8,394.1 1192.0,396.7 1204.2,417.1 1216.5,403.6 1228.8,413.6 1241.0,416.8 1253.2,423.8 1265.5,426.5 1277.8,423.4 1290.0,426.1 1302.2,440.3 1314.5,449.2 1326.8,449.7 1339.0,458.0 1351.2,464.3 1363.5,471.1 1375.8,478.5 1388.0,495.0 1400.2,496.9 1412.5,504.5 1424.8,519.0 1437.0,503.7 1449.2,522.9 1461.5,534.0 1473.8,542.2 1486.0,554.9 1498.2,574.2 1510.5,571.4 1522.8,582.0 1535.0,596.2 1547.2,603.5 1559.5,607.9 1571.8,627.0 1584.0,640.0 1596.2,651.9 1608.5,677.9 1620.8,701.8" fill="none" stroke="#000" stroke-width="1" stroke-linejoin="round" shape-rendering="crispEdges"/>
<polyline points="150.8,733.2 175.2,746.0 199.8,713.8 224.2,673.1 248.8,633.6 273.2,609.1 297.8,579.1 322.2,543.6 346.8,533.1 371.2,516.3 395.8,504.7 420.2,482.1 444.8,471.4 469.2,466.6 493.8,427.9 518.2,409.9 542.8,395.3 567.2,374.7 591.8,340.7 616.2,355.7 640.8,364.7 665.2,372.0 689.8,362.3 714.2,336.0 738.8,347.5 763.2,319.6 787.8,311.4 812.2,288.8 836.8,276.1 861.2,281.7 885.8,297.7 910.2,299.8 934.8,307.8 959.2,301.3 983.8,307.6 1008.2,293.1 1032.8,295.5 1057.2,307.7 1081.8,317.2 1106.2,319.7 1130.8,317.7 1155.2,327.5 1179.8,330.4 1204.2,344.0 1228.8,362.5 1253.2,357.4 1277.8,393.1 1302.2,418.5 1326.8,426.6 1351.2,450.1 1375.8,463.6 1400.2,490.0 1424.8,527.7 1449.2,543.2 1473.8,550.2 1498.2,576.9 1522.8,600.9 1547.2,609.1 1571.8,625.8 1596.2,667.0 1620.8,695.3" fill="none" stroke="#000" stroke-width="1" stroke-linejoin="round" shape-rendering="crispEdges"/>
<polyline points="150.8,693.2 163.0,707.8 175.2,695.0 187.5,680.8 199.8,672.3 212.0,661.3 224.2,656.6 236.5,644.4 248.8,613.1 261.0,592.7 273.2,586.6 285.5,578.3 297.8,573.7 310.0,550.4 322.2,543.7 334.5,539.4 346.8,527.5 359.0,518.9 371.2,490.8 383.5,477.9 395.8,479.2 408.0,465.7 420.2,451.4 432.5,436.7 444.8,419.4 457.0,425.7 469.2,406.7 481.5,390.2 493.8,385.3 506.0,359.9 518.2,341.8 530.5,351.3 542.8,342.7 555.0,344.2 567.2,356.3 579.5,353.3 591.8,346.4 604.0,348.2 616.2,350.6 628.5,351.8 640.8,357.5 653.0,364.7 665.2,371.5 677.5,363.6 689.8,356.8 702.0,357.1 714.2,345.3 726.5,352.5 738.8,333.9 751.0,330.7 763.2,320.1 775.5,318.0 787.8,314.4 800.0,302.0 812.2,309.7 824.5,324.0 836.8,328.5 849.0,324.4 861.2,318.4 873.5,325.4 885.8,327.0 898.0,327.1 910.2,338.9 922.5,345.9 934.8,347.2 947.0,346.0 959.2,342.0 971.5,334.8 983.8,323.3 996.0,319.5 1008.2,317.3 1020.5,313.3 1032.8,316.3 1045.0,323.0 1057.2,317.8 1069.5,317.0 1081.8,331.7 1094.0,328.2 1106.2,325.4 1118.5,323.1 1130.8,320.7 1143.0,320.1 1155.2,336.7 1167.5,342.7 1179.8,338.6 1192.0,345.3 1204.2,345.5 1216.5,352.6 1228.8,350.4 1241.0,371.3 1253.2,375.1 1265.5,389.7 1277.8,402.9 1290.0,414.7 1302.2,417.1 1314.5,421.6 1326.8,425.0 1339.0,441.2 1351.2,450.0 1363.5,466.3 1375.8,487.8 1388.0,486.0 1400.2,504.3 1412.5,516.6 1424.8,533.2 1437.0,525.5 1449.2,534.9 1461.5,551.3 1473.8,569.1 1486.0,580.2 1498.2,583.4 1510.5,583.1 1522.8,596.1 1535.0,596.8 1547.2,611.1 1559.5,623.6 1571.8,634.4 1584.0,648.2 1596.2,667.8 1608.5,678.6 1620.8,708.7" fill="none" stroke="#000" stroke-width="1" stroke-linejoin="round" shape-rendering="crispEdges"/>
<polyline points="150.8,731.2 163.0,733.1 175.2,736.2 187.5,715.6 199.8,696.7 212.0,699.7 224.2,665.6 236.5,661.7 248.8,645.3 261.0,622.5 273.2,611.6 285.5,615.6 297.8,593.2 310.0,586.4 322.2,584.6 334.5,565.8 346.8,563.5 359.0,543.7 371.2,537.2 383.5,524.1 395.8,513.1 408.0,503.9 420.2,497.1 432.5,503.1 444.8,483.1 457.0,488.8 469.2,478.3 481.5,446.7 493.8,439.8 506.0,429.1 518.2,412.8 530.5,410.0 542.8,420.8 555.0,413.3 567.2,404.2 579.5,402.9 591.8,402.8 604.0,402.4 616.2,405.3 628.5,400.8 640.8,408.8 653.0,401.6 665.2,401.4 677.5,398.7 689.8,387.9 702.0,376.4 714.2,378.8 726.5,355.3 738.8,348.0 751.0,347.5 763.2,350.1 775.5,350.1 787.8,335.7 800.0,330.3 812.2,335.5 824.5,326.9 836.8,328.0 849.0,311.4 861.2,323.6 873.5,320.4 885.8,322.2 898.0,320.1 910.2,320.3 922.5,324.8 934.8,326.1 947.0,319.1 959.2,326.2 971.5,320.1 983.8,326.1 996.0,322.2 1008.2,325.1 1020.5,322.0 1032.8,320.6 1045.0,339.1 1057.2,318.2 1069.5,324.8 1081.8,330.3 1094.0,345.2 1106.2,355.2 1118.5,344.8 1130.8,347.5 1143.0,371.7 1155.2,359.0 1167.5,370.0 1179.8,366.0 1192.0,377.6 1204.2,386.5 1216.5,379.2 1228.8,387.5 1241.0,394.0 1253.2,389.3 1265.5,392.2 1277.8,406.6 1290.0,391.0 1302.2,389.6 1314.5,414.5 1326.8,414.2 1339.0,433.8 1351.2,439.5 1363.5,444.5 1375.8,475.2 1388.0,469.5 1400.2,468.9 1412.5,493.9 1424.8,496.3 1437.0,504.5 1449.2,504.4 1461.5,525.7 1473.8,535.0 1486.0,543.6 1498.2,559.0 1510.5,574.6 1522.8,586.6 1535.0,602.9 1547.2,607.3 1559.5,631.3 1571.8,630.7 1584.0,654.6 1596.2,667.3 1608.5,677.3 1620.8,686.2" fill="none" stroke="#000" stroke-width="1" stroke-linejoin="round" shape-rendering="crispEdges"/>
<polyline points="163.0,700.8 187.5,665.4 212.0,637.9 236.5,628.4 261.0,615.6 285.5,596.5 310.0,573.5 334.5,551.5 359.0,540.9 383.5,520.5 408.0,503.2 432.5,500.4 457.0,473.0 481.5,446.8 506.0,431.0 530.5,408.9 555.0,397.5 579.5,381.7 604.0,342.4 628.5,343.9 653.0,339.6 677.5,334.9 702.0,328.4 726.5,308.5 751.0,296.2 775.5,279.3 800.0,247.0 824.5,231.7 849.0,242.5 873.5,242.0 898.0,271.2 922.5,286.0 947.0,289.0 971.5,285.0 996.0,275.5 1020.5,282.9 1045.0,284.5 1069.5,296.1 1094.0,282.7 1118.5,285.8 1143.0,288.6 1167.5,295.3 1192.0,312.0 1216.5,313.9 1241.0,333.2 1265.5,363.0 1290.0,364.8 1314.5,379.0 1339.0,403.1 1363.5,407.9 1388.0,426.7 1412.5,437.9 1437.0,471.3 1461.5,473.1 1486.0,516.4 1510.5,550.4 1535.0,580.2 1559.5,605.7 1584.0,622.3 1608.5,667.5" fill="none" stroke="#000" stroke-width="1" stroke-linejoin="round" shape-rendering="crispEdges"/>
<polyline points="150.8,706.7 163.0,716.4 175.2,703.6 187.5,691.0 199.8,689.4 212.0,671.1 224.2,663.9 236.5,654.4 248.8,644.9 261.0,636.6 273.2,618.3 285.5,608.6 297.8,603.7 310.0,576.3 322.2,570.6 334.5,550.2 346.8,549.6 359.0,543.0 371.2,543.8 383.5,529.0 395.8,528.7 408.0,522.6 420.2,506.0 432.5,489.9 444.8,465.2 457.0,463.2 469.2,453.3 481.5,433.3 493.8,427.8 506.0,410.1 518.2,394.9 530.5,389.1 542.8,369.8 555.0,357.5 567.2,366.6 579.5,365.6 591.8,366.3 604.0,362.7 616.2,360.1 628.5,361.8 640.8,360.3 653.0,369.4 665.2,377.4 677.5,370.1 689.8,370.8 702.0,358.2 714.2,358.7 726.5,344.4 738.8,338.0 751.0,340.5 763.2,343.6 775.5,332.7 787.8,300.1 800.0,295.5 812.2,310.3 824.5,304.8 836.8,301.5 849.0,300.0 861.2,299.3 873.5,287.3 885.8,303.3 898.0,286.9 910.2,285.0 922.5,300.4 934.8,291.1 947.0,275.2 959.2,272.0 971.5,261.2 983.8,261.7 996.0,257.6 1008.2,258.5 1020.5,249.7 1032.8,248.3 1045.0,256.8 1057.2,267.5 1069.5,278.3 1081.8,291.6 1094.0,297.2 1106.2,292.3 1118.5,302.3 1130.8,296.2 1143.0,316.7 1155.2,327.1 1167.5,321.2 1179.8,331.7 1192.0,331.8 1204.2,331.4 1216.5,344.7 1228.8,352.1 1241.0,352.7 1253.2,349.0 1265.5,345.0 1277.8,365.4 1290.0,359.8 1302.2,379.0 1314.5,377.6 1326.8,386.7 1339.0,393.3 1351.2,424.4 1363.5,422.1 1375.8,434.1 1388.0,455.4 1400.2,451.9 1412.5,480.4 1424.8,486.0 1437.0,500.5 1449.2,510.4 1461.5,523.7 1473.8,532.2 1486.0,534.6 1498.2,549.0 1510.5,559.9 1522.8,568.6 1535.0,565.2 1547.2,577.7 1559.5,593.2 1571.8,615.9 1584.0,637.0 1596.2,641.4 1608.5,638.0 1620.8,677.1" fill="none" stroke="#000" stroke-width="1" stroke-linejoin="round" shape-rendering="crispEdges"/>
<polyline points="150.8,710.0 163.0,707.4 175.2,684.0 187.5,694.4 199.8,670.4 212.0,648.7 224.2,646.4 236.5,639.1 248.8,621.1 261.0,627.7 273.2,599.4 285.5,589.2 297.8,591.8 310.0,577.6 322.2,561.4 334.5,557.7 346.8,557.8 359.0,560.3 371.2,535.4 383.5,519.4 395.8,519.7 408.0,504.5 420.2,488.5 432.5,491.0 444.8,488.4 457.0,466.9 469.2,462.1 481.5,440.4 493.8,438.2 506.0,420.2 518.2,422.8 530.5,421.1 542.8,415.0 555.0,404.7 567.2,396.6 579.5,369.7 591.8,372.6 604.0,368.7 616.2,359.3 628.5,362.0 640.8,347.0 653.0,349.0 665.2,347.4 677.5,354.6 689.8,339.7 702.0,349.9 714.2,334.6 726.5,331.7 738.8,307.4 751.0,302.3 763.2,297.3 775.5,287.6 787.8,275.0 800.0,267.9 812.2,266.5 824.5,263.6 836.8,256.4 849.0,259.4 861.2,267.1 873.5,268.0 885.8,292.6 898.0,293.0 910.2,306.4 922.5,292.2 934.8,297.0 947.0,291.6 959.2,289.6 971.5,288.9 983.8,279.0 996.0,298.0 1008.2,276.8 1020.5,282.4 1032.8,263.7 1045.0,269.4 1057.2,287.2 1069.5,297.7 1081.8,289.6 1094.0,288.4 1106.2,293.1 1118.5,285.7 1130.8,291.7 1143.0,309.9 1155.2,294.2 1167.5,308.3 1179.8,308.8 1192.0,315.0 1204.2,325.2 1216.5,322.6 1228.8,343.5 1241.0,354.9 1253.2,352.2 1265.5,369.0 1277.8,363.1 1290.0,360.9 1302.2,386.4 1314.5,413.0 1326.8,402.8 1339.0,408.6 1351.2,410.6 1363.5,416.0 1375.8,427.8 1388.0,441.3 1400.2,447.8 1412.5,461.7 1424.8,475.0 1437.0,455.9 1449.2,460.7 1461.5,470.0 1473.8,486.9 1486.0,485.0 1498.2,513.3 1510.5,500.3 1522.8,508.4 1535.0,531.4 1547.2,533.8 1559.5,560.6 1571.8,554.0 1584.0,578.1 1596.2,594.9 1608.5,613.6 1620.8,628.4" fill="none" stroke="#000" stroke-width="1" stroke-linejoin="round" shape-rendering="crispEdges"/>
<polyline points="150.8,704.7 175.2,687.2 199.8,651.6 224.2,615.2 248.8,605.3 273.2,575.3 297.8,546.4 322.2,531.0 346.8,514.1 371.2,481.1 395.8,445.5 420.2,434.3 444.8,426.6 469.2,400.8 493.8,388.9 518.2,365.0 542.8,375.8 567.2,370.8 591.8,351.8 616.2,336.8 640.8,326.7 665.2,323.9 689.8,327.8 714.2,316.9 738.8,313.5 763.2,309.4 787.8,292.6 812.2,287.9 836.8,289.2 861.2,276.3 885.8,280.4 910.2,286.9 934.8,272.9 959.2,260.9 983.8,260.9 1008.2,241.1 1032.8,250.5 1057.2,284.3 1081.8,284.8 1106.2,313.7 1130.8,310.8 1155.2,308.6 1179.8,308.0 1204.2,326.4 1228.8,329.8 1253.2,324.8 1277.8,335.9 1302.2,356.6 1326.8,359.2 1351.2,381.3 1375.8,375.7 1400.2,410.4 1424.8,433.5 1449.2,431.9 1473.8,454.8 1498.2,487.5 1522.8,522.2 1547.2,535.2 1571.8,564.4 1596.2,598.4 1620.8,625.5" fill="none" stroke="#000" stroke-width="1" stroke-linejoin="round" shape-rendering="crispEdges"/>
<polyline points="150.8,657.2 163.0,650.6 175.2,640.9 187.5,627.1 199.8,609.0 212.0,584.5 224.2,568.5 236.5,561.4 248.8,543.8 261.0,521.0 273.2,502.6 285.5,495.5 297.8,485.4 310.0,477.0 322.2,468.1 334.5,467.9 346.8,464.7 359.0,442.3 371.2,424.4 383.5,406.2 395.8,398.1 408.0,408.6 420.2,388.9 432.5,382.2 444.8,373.1 457.0,368.7 469.2,347.1 481.5,327.8 493.8,334.2 506.0,334.4 518.2,345.2 530.5,326.6 542.8,319.8 555.0,313.6 567.2,299.7 579.5,304.6 591.8,311.3 604.0,307.5 616.2,291.8 628.5,295.7 640.8,288.2 653.0,290.4 665.2,290.6 677.5,294.0 689.8,292.2 702.0,288.6 714.2,273.7 726.5,280.4 738.8,269.8 751.0,266.7 763.2,271.1 775.5,267.4 787.8,260.6 800.0,253.8 812.2,257.1 824.5,256.2 836.8,243.0 849.0,248.4 861.2,233.8 873.5,258.6 885.8,254.8 898.0,260.3 910.2,252.5 922.5,274.2 934.8,269.6 947.0,264.0 959.2,258.1 971.5,267.1 983.8,273.7 996.0,266.9 1008.2,252.7 1020.5,234.4 1032.8,232.2 1045.0,233.2 1057.2,252.1 1069.5,259.4 1081.8,261.9 1094.0,278.1 1106.2,283.4 1118.5,289.1 1130.8,290.5 1143.0,289.2 1155.2,303.2 1167.5,292.3 1179.8,295.5 1192.0,307.9 1204.2,301.4 1216.5,308.2 1228.8,327.0 1241.0,334.3 1253.2,327.8 1265.5,325.8 1277.8,332.1 1290.0,349.2 1302.2,343.6 1314.5,361.2 1326.8,375.6 1339.0,360.0 1351.2,384.8 1363.5,393.8 1375.8,387.6 1388.0,400.0 1400.2,407.2 1412.5,424.4 1424.8,442.6 1437.0,439.3 1449.2,444.3 1461.5,452.1 1473.8,464.7 1486.0,481.2 1498.2,489.8 1510.5,504.3 1522.8,517.9 1535.0,517.5 1547.2,525.2 1559.5,527.0 1571.8,540.3 1584.0,565.0 1596.2,572.8 1608.5,600.7 1620.8,626.4" fill="none" stroke="#000" stroke-width="1" stroke-linejoin="round" shape-rendering="crispEdges"/>
<polyline points="150.8,675.6 163.0,665.3 175.2,657.2 187.5,647.0 199.8,646.4 212.0,627.5 224.2,617.4 236.5,600.0 248.8,570.2 261.0,562.8 273.2,552.9 285.5,540.2 297.8,532.8 310.0,521.8 322.2,502.9 334.5,486.9 346.8,489.0 359.0,474.2 371.2,476.7 383.5,453.8 395.8,443.3 408.0,424.4 420.2,405.5 432.5,404.9 444.8,382.0 457.0,366.2 469.2,355.6 481.5,330.3 493.8,303.8 506.0,290.6 518.2,302.6 530.5,286.0 542.8,281.8 555.0,278.7 567.2,282.8 579.5,274.3 591.8,277.5 604.0,276.1 616.2,268.8 628.5,257.6 640.8,251.1 653.0,233.1 665.2,235.7 677.5,235.2 689.8,226.4 702.0,239.8 714.2,229.2 726.5,210.1 738.8,187.6 751.0,189.5 763.2,187.3 775.5,184.8 787.8,188.0 800.0,193.0 812.2,192.6 824.5,179.8 836.8,189.9 849.0,186.8 861.2,194.3 873.5,191.9 885.8,200.4 898.0,204.2 910.2,217.0 922.5,198.9 934.8,211.1 947.0,227.5 959.2,223.0 971.5,224.9 983.8,231.2 996.0,227.9 1008.2,219.2 1020.5,218.7 1032.8,201.0 1045.0,218.7 1057.2,211.6 1069.5,216.5 1081.8,221.2 1094.0,219.5 1106.2,200.8 1118.5,210.8 1130.8,210.6 1143.0,208.1 1155.2,219.5 1167.5,226.4 1179.8,236.0 1192.0,243.4 1204.2,249.1 1216.5,246.4 1228.8,260.0 1241.0,257.6 1253.2,257.3 1265.5,267.6 1277.8,288.1 1290.0,298.8 1302.2,305.5 1314.5,287.6 1326.8,294.8 1339.0,322.8 1351.2,323.4 1363.5,338.2 1375.8,338.4 1388.0,352.2 1400.2,372.4 1412.5,388.6 1424.8,405.8 1437.0,420.8 1449.2,424.8 1461.5,428.1 1473.8,459.6 1486.0,454.1 1498.2,471.6 1510.5,476.7 1522.8,493.0 1535.0,501.2 1547.2,517.6 1559.5,541.3 1571.8,533.5 1584.0,555.0 1596.2,577.5 1608.5,576.4 1620.8,600.9" fill="none" stroke="#000" stroke-width="1" stroke-linejoin="round" shape-rendering="crispEdges"/>
<polyline points="163.0,675.6 187.5,660.0 212.0,630.7 236.5,609.0 261.0,560.1 285.5,536.8 310.0,498.7 334.5,479.3 359.0,456.6 383.5,442.4 408.0,411.1 432.5,395.5 457.0,392.4 481.5,377.5 506.0,363.0 530.5,343.3 555.0,312.7 579.5,288.6 604.0,270.6 628.5,264.3 653.0,292.1 677.5,291.5 702.0,290.7 726.5,283.2 751.0,267.0 775.5,242.3 800.0,247.7 824.5,247.3 849.0,237.9 873.5,246.0 898.0,226.2 922.5,231.6 947.0,253.7 971.5,237.8 996.0,241.9 1020.5,203.7 1045.0,224.1 1069.5,222.6 1094.0,216.8 1118.5,206.2 1143.0,203.0 1167.5,228.4 1192.0,239.6 1216.5,238.0 1241.0,240.0 1265.5,239.7 1290.0,257.6 1314.5,268.7 1339.0,261.5 1363.5,280.2 1388.0,292.7 1412.5,328.6 1437.0,343.7 1461.5,352.1 1486.0,389.3 1510.5,441.9 1535.0,448.9 1559.5,477.2 1584.0,504.1 1608.5,548.6" fill="none" stroke="#000" stroke-width="1" stroke-linejoin="round" shape-rendering="crispEdges"/>
<polyline points="150.8,614.3 163.0,630.2 175.2,618.5 187.5,607.9 199.8,593.1 212.0,578.6 224.2,582.5 236.5,577.1 248.8,573.0 261.0,562.6 273.2,539.5 285.5,543.2 297.8,515.4 310.0,509.3 322.2,501.6 334.5,490.6 346.8,451.8 359.0,452.5 371.2,439.7 383.5,430.1 395.8,410.5 408.0,397.9 420.2,395.2 432.5,382.4 444.8,379.7 457.0,353.4 469.2,344.9 481.5,327.7 493.8,327.6 506.0,320.4 518.2,315.3 530.5,291.1 542.8,279.2 555.0,274.0 567.2,273.8 579.5,262.2 591.8,264.3 604.0,257.7 616.2,263.2 628.5,256.2 640.8,252.0 653.0,254.8 665.2,255.6 677.5,256.4 689.8,252.0 702.0,243.7 714.2,234.4 726.5,210.8 738.8,202.9 751.0,201.2 763.2,184.3 775.5,182.2 787.8,172.9 800.0,176.1 812.2,170.5 824.5,164.9 836.8,165.3 849.0,167.5 861.2,157.8 873.5,174.8 885.8,179.8 898.0,184.3 910.2,183.6 922.5,182.9 934.8,177.6 947.0,178.1 959.2,174.5 971.5,163.1 983.8,166.6 996.0,175.5 1008.2,177.1 1020.5,165.1 1032.8,144.1 1045.0,167.3 1057.2,174.4 1069.5,172.9 1081.8,170.5 1094.0,172.4 1106.2,183.0 1118.5,176.8 1130.8,171.7 1143.0,166.9 1155.2,183.0 1167.5,189.9 1179.8,203.2 1192.0,207.1 1204.2,202.9 1216.5,216.2 1228.8,229.4 1241.0,235.2 1253.2,221.8 1265.5,234.3 1277.8,255.1 1290.0,269.6 1302.2,267.7 1314.5,274.9 1326.8,290.1 1339.0,303.2 1351.2,302.7 1363.5,312.7 1375.8,331.9 1388.0,334.5 1400.2,363.4 1412.5,366.5 1424.8,375.3 1437.0,387.8 1449.2,394.0 1461.5,393.2 1473.8,393.0 1486.0,411.0 1498.2,428.9 1510.5,458.6 1522.8,466.6 1535.0,483.8 1547.2,497.5 1559.5,504.5 1571.8,529.4 1584.0,544.7 1596.2,576.1 1608.5,586.1 1620.8,605.3" fill="none" stroke="#000" stroke-width="1" stroke-linejoin="round" shape-rendering="crispEdges"/>
<polyline points="150.8,575.9 163.0,584.5 175.2,579.0 187.5,573.0 199.8,539.7 212.0,533.1 224.2,510.1 236.5,511.5 248.8,503.3 261.0,488.2 273.2,491.8 285.5,468.9 297.8,463.8 310.0,436.9 322.2,432.8 334.5,438.0 346.8,436.4 359.0,418.1 371.2,424.8 383.5,419.6 395.8,408.3 408.0,401.2 420.2,393.3 432.5,397.0 444.8,361.3 457.0,356.4 469.2,346.4 481.5,334.3 493.8,319.5 506.0,308.4 518.2,289.0 530.5,286.0 542.8,278.9 555.0,255.9 567.2,265.5 579.5,257.9 591.8,248.6 604.0,256.7 616.2,246.2 628.5,259.2 640.8,249.8 653.0,274.3 665.2,257.0 677.5,264.2 689.8,273.0 702.0,270.8 714.2,238.6 726.5,218.4 738.8,206.3 751.0,192.4 763.2,191.0 775.5,191.9 787.8,180.8 800.0,176.5 812.2,155.7 824.5,162.8 836.8,145.3 849.0,155.1 861.2,161.4 873.5,186.7 885.8,171.5 898.0,189.7 910.2,183.1 922.5,193.6 934.8,204.7 947.0,190.2 959.2,193.3 971.5,210.9 983.8,201.8 996.0,215.9 1008.2,201.3 1020.5,186.1 1032.8,175.1 1045.0,181.7 1057.2,193.9 1069.5,200.6 1081.8,206.7 1094.0,202.2 1106.2,198.6 1118.5,196.0 1130.8,197.7 1143.0,201.0 1155.2,219.5 1167.5,221.0 1179.8,222.1 1192.0,222.9 1204.2,243.0 1216.5,252.0 1228.8,251.8 1241.0,266.1 1253.2,262.3 1265.5,264.8 1277.8,271.5 1290.0,276.7 1302.2,285.4 1314.5,310.2 1326.8,313.3 1339.0,322.2 1351.2,320.6 1363.5,330.1 1375.8,343.6 1388.0,348.3 1400.2,352.4 1412.5,377.8 1424.8,382.4 1437.0,388.2 1449.2,404.8 1461.5,412.2 1473.8,419.1 1486.0,442.4 1498.2,452.2 1510.5,461.8 1522.8,477.9 1535.0,480.0 1547.2,509.8 1559.5,500.7 1571.8,526.1 1584.0,536.8 1596.2,568.1 1608.5,579.9 1620.8,592.7" fill="none" stroke="#000" stroke-width="1" stroke-linejoin="round" shape-rendering="crispEdges"/>
<polyline points="163.00,805.40 175.25,797.70 187.50,788.07 199.75,778.10 212.00,765.10 224.25,752.10 236.50,739.10 248.75,730.04 261.00,721.97 273.25,713.90 285.50,702.86 297.75,691.82 310.00,681.10 322.25,670.70 334.50,660.30 346.75,649.50 359.00,638.70 371.25,628.61 383.50,619.43 395.75,611.07 408.00,603.17 420.25,595.30 432.50,587.30 444.75,579.09 457.00,572.02 469.25,563.46 481.50,550.30 493.75,546.30 506.00,539.05 518.25,528.96 530.50,516.70 542.75,510.37 555.00,507.23 567.25,503.76 579.50,497.61 591.75,492.32 604.00,486.67 616.25,480.33 628.50,474.81 640.75,469.96 653.00,466.49 665.25,463.35 677.50,460.19 689.75,456.13 702.00,451.82 714.25,447.26 726.50,437.65 738.75,432.66 751.00,429.90 763.25,424.23 775.50,419.69 787.75,416.28 800.00,412.45 812.25,409.59 824.50,409.24 836.75,405.50 849.00,401.03 861.25,400.12 873.50,399.22 885.75,398.63 898.00,400.92 910.25,401.98 922.50,401.16 934.75,401.65 947.00,401.99 959.25,400.46 971.50,398.48 983.75,396.04 996.00,397.55 1008.25,399.45 1020.50,401.18 1032.75,405.62 1045.00,410.79 1057.25,414.26 1069.50,418.94 1081.75,423.59 1094.00,426.02 1106.25,427.26 1118.50,427.70 1130.75,433.16 1143.00,436.10 1155.25,438.52 1167.50,440.15 1179.75,442.26 1192.00,444.70 1204.25,449.77 1216.50,450.76 1228.75,451.20 1241.00,453.80 1253.25,462.70 1265.50,471.60 1277.75,480.51 1290.00,489.41 1302.25,502.00 1314.50,508.60 1326.75,515.33 1339.00,524.86 1351.25,537.26 1363.50,546.48 1375.75,555.69 1388.00,564.91 1400.25,574.12 1412.50,583.34 1424.75,592.55 1437.00,602.76 1449.25,615.30 1461.50,627.83 1473.75,642.18 1486.00,648.55 1498.25,653.82 1510.50,660.15 1522.75,666.93 1535.00,676.55 1547.25,690.41 1559.50,704.28 1571.75,716.43 1584.00,726.01 1596.25,737.87 1608.50,752.00 1620.75,768.00" fill="none" stroke="#000" stroke-width="5" stroke-linecap="round" stroke-linejoin="round" stroke-dasharray="5 14" shape-rendering="crispEdges"/>
<polyline points="150.75,973.20 163.00,947.60 175.25,957.10 187.50,939.80 199.75,911.00 212.00,906.00 224.25,884.00 236.50,888.00 248.75,894.70 261.00,948.00 273.25,946.60 285.50,932.30 297.75,916.70 310.00,901.20 322.25,880.40 334.50,840.00 346.75,829.00 359.00,809.00 371.25,789.00 383.50,771.00 395.75,764.00 408.00,749.00 420.25,731.00 432.50,711.00 444.75,706.00 457.00,710.50 469.25,692.00 481.50,699.80 493.75,703.50 506.00,692.00 518.25,696.50 530.50,701.70 542.75,666.60 555.00,673.20 567.25,675.80 579.50,690.10 591.75,688.80 604.00,671.90 616.25,666.70 628.50,658.90 640.75,645.90 653.00,635.50 665.25,631.60 677.50,622.50 689.75,622.00 702.00,600.50 714.25,626.90 726.50,612.60 738.75,613.60 751.00,600.60 763.25,572.00 775.50,600.60 787.75,585.00 800.00,577.20 812.25,569.40 824.50,575.90 836.75,594.70 849.00,585.00 861.25,587.20 873.50,588.10 885.75,592.40 898.00,582.90 910.25,588.10 922.50,590.70 934.75,592.40 947.00,595.00 959.25,593.30 971.50,560.30 983.75,551.70 996.00,553.40 1008.25,571.60 1020.50,596.70 1032.75,602.80 1045.00,632.30 1057.25,627.10 1069.50,606.30 1081.75,618.40 1094.00,644.40 1106.25,665.00 1118.50,653.70 1130.75,632.90 1143.00,653.70 1155.25,656.30 1167.50,662.40 1179.75,654.60 1192.00,658.90 1204.25,682.30 1216.50,671.90 1228.75,683.20 1241.00,690.10 1253.25,687.50 1265.50,684.10 1277.75,704.00 1290.00,696.20 1302.25,694.50 1314.50,705.70 1326.75,721.30 1339.00,719.60 1351.25,735.20 1363.50,745.60 1375.75,766.40 1388.00,781.10 1400.25,779.40 1412.50,798.40 1424.75,806.20 1437.00,817.80 1449.25,808.80 1461.50,814.40 1473.75,815.70 1486.00,807.90 1498.25,819.60 1510.50,833.90 1522.75,831.30 1535.00,856.00 1547.25,866.40 1559.50,876.80 1571.75,891.10 1584.00,884.60 1596.25,884.60 1608.50,897.60 1620.75,904.10" fill="none" stroke="#ffff00" stroke-width="5" stroke-linecap="round" stroke-linejoin="round" shape-rendering="crispEdges"/>
<polyline points="150.75,954.10 163.00,955.00 175.25,952.00 187.50,935.50 199.75,926.80 212.00,920.70 224.25,898.20 236.50,895.60 248.75,876.00 261.00,862.00 273.25,823.20 285.50,832.30 297.75,814.00 310.00,805.00 322.25,799.60 334.50,789.20 346.75,784.00 359.00,771.00 371.25,756.70 383.50,767.00 395.75,733.00 408.00,708.00 420.25,688.00 432.50,649.70 444.75,643.20 457.00,627.60 469.25,623.70 481.50,610.70 493.75,604.20 506.00,625.00 518.25,645.80 530.50,613.30 542.75,592.50 555.00,592.50 567.25,580.80 579.50,557.40 591.75,552.00 604.00,548.90 616.25,546.30 628.50,539.80 640.75,526.80 653.00,521.60 665.25,519.00 677.50,534.60 689.75,555.40 702.00,573.60 714.25,560.00 726.50,543.70 738.75,535.20 751.00,528.70 763.25,528.00 775.50,498.80 787.75,461.10 800.00,460.40 812.25,453.30 824.50,446.10 836.75,450.00 849.00,424.00 861.25,452.00 873.50,455.00 885.75,442.00 898.00,457.60 910.25,460.80 922.50,462.80 934.75,458.90 947.00,449.80 959.25,456.90 971.50,443.30 983.75,426.40 996.00,449.80 1008.25,447.20 1020.50,440.70 1032.75,432.90 1045.00,462.80 1057.25,462.80 1069.50,475.80 1081.75,477.10 1094.00,475.80 1106.25,474.50 1118.50,471.90 1130.75,473.20 1143.00,474.60 1155.25,479.80 1167.50,492.80 1179.75,490.80 1192.00,490.20 1204.25,503.20 1216.50,513.60 1228.75,518.80 1241.00,505.80 1253.25,503.80 1265.50,518.80 1277.75,525.40 1290.00,533.20 1302.25,556.60 1314.50,573.50 1326.75,574.80 1339.00,554.00 1351.25,547.50 1363.50,570.40 1375.75,571.70 1388.00,589.90 1400.25,606.50 1412.50,634.00 1424.75,637.60 1437.00,653.20 1449.25,688.30 1461.50,682.50 1473.75,705.00 1486.00,728.20 1498.25,738.60 1510.50,759.40 1522.75,756.80 1535.00,767.20 1547.25,782.80 1559.50,801.00 1571.75,795.80 1584.00,794.50 1596.25,802.30 1608.50,810.10 1620.75,807.50" fill="none" stroke="#a020f0" stroke-width="5" stroke-linecap="round" stroke-linejoin="round" shape-rendering="crispEdges"/>
<polyline points="150.75,959.70 163.00,961.00 175.25,932.00 187.50,932.90 199.75,911.20 212.00,893.00 224.25,881.70 236.50,854.30 248.75,850.40 261.00,834.90 273.25,813.90 285.50,810.00 297.75,787.90 310.00,752.80 322.25,733.30 334.50,732.60 346.75,737.20 359.00,719.00 371.25,691.50 383.50,707.00 395.75,716.00 408.00,697.50 420.25,702.70 432.50,713.70 444.75,718.30 457.00,723.50 469.25,703.30 481.50,688.40 493.75,674.10 506.00,663.70 518.25,657.20 530.50,635.40 542.75,612.00 555.00,625.50 567.25,624.00 579.50,606.00 591.75,590.00 604.00,565.00 616.25,545.00 628.50,535.90 640.75,544.30 653.00,568.40 665.25,564.50 677.50,550.20 689.75,548.90 702.00,537.80 714.25,535.20 726.50,515.10 738.75,518.00 751.00,546.50 763.25,541.20 775.50,538.00 787.75,555.10 800.00,552.50 812.25,553.80 824.50,543.20 836.75,509.20 849.00,501.40 861.25,479.30 873.50,466.50 885.75,457.40 898.00,473.20 910.25,491.40 922.50,477.10 934.75,471.90 947.00,494.00 959.25,514.80 971.50,534.30 983.75,546.00 996.00,535.60 1008.25,543.00 1020.50,533.00 1032.75,520.00 1045.00,527.80 1057.25,521.30 1069.50,505.70 1081.75,514.80 1094.00,517.40 1106.25,514.80 1118.50,507.00 1130.75,497.90 1143.00,492.80 1155.25,500.00 1167.50,503.20 1179.75,516.20 1192.00,518.80 1204.25,530.00 1216.50,539.60 1228.75,544.80 1241.00,563.00 1253.25,569.50 1265.50,568.20 1277.75,557.90 1290.00,551.40 1302.25,567.00 1314.50,580.00 1326.75,574.80 1339.00,590.40 1351.25,591.80 1363.50,600.30 1375.75,604.20 1388.00,592.50 1400.25,614.00 1412.50,624.20 1424.75,622.90 1437.00,632.00 1449.25,645.00 1461.50,650.20 1473.75,650.20 1486.00,635.90 1498.25,647.60 1510.50,655.40 1522.75,673.60 1535.00,686.60 1547.25,687.90 1559.50,689.20 1571.75,710.00 1584.00,721.70 1596.25,723.00 1608.50,739.90 1620.75,764.60" fill="none" stroke="#00ff00" stroke-width="5" stroke-linecap="round" stroke-linejoin="round" shape-rendering="crispEdges"/>
<polyline points="150.75,958.90 163.00,949.30 175.25,945.40 187.50,948.50 199.75,932.00 212.00,906.90 224.25,889.00 236.50,879.00 248.75,867.30 261.00,862.00 273.25,838.80 285.50,844.00 297.75,829.70 310.00,815.40 322.25,797.00 334.50,804.80 346.75,804.80 359.00,802.20 371.25,786.60 383.50,776.00 395.75,774.00 408.00,787.00 420.25,790.00 432.50,783.30 444.75,762.50 457.00,736.50 469.25,751.50 481.50,773.50 493.75,749.00 506.00,728.70 518.25,723.00 530.50,710.80 542.75,695.20 555.00,697.90 567.25,686.20 579.50,684.90 591.75,683.60 604.00,700.50 616.25,678.40 628.50,657.60 640.75,670.60 653.00,666.70 665.25,642.00 677.50,623.00 689.75,604.00 702.00,594.00 714.25,585.30 726.50,558.00 738.75,555.10 751.00,568.10 763.25,579.80 775.50,579.80 787.75,549.90 800.00,543.40 812.25,557.70 824.50,560.30 836.75,569.40 849.00,561.60 861.25,536.70 873.50,532.30 885.75,502.20 898.00,494.00 910.25,474.50 922.50,452.40 934.75,456.30 947.00,468.00 959.25,475.80 971.50,486.20 983.75,483.60 996.00,490.10 1008.25,486.20 1020.50,486.20 1032.75,488.80 1045.00,484.90 1057.25,474.50 1069.50,468.00 1081.75,466.70 1094.00,478.40 1106.25,478.40 1118.50,479.70 1130.75,494.00 1143.00,496.00 1155.25,472.00 1167.50,481.10 1179.75,466.80 1192.00,472.00 1204.25,472.00 1216.50,449.90 1228.75,438.20 1241.00,429.70 1253.25,442.10 1265.50,453.80 1277.75,465.60 1290.00,474.70 1302.25,487.70 1314.50,494.20 1326.75,504.60 1339.00,511.10 1351.25,517.60 1363.50,535.80 1375.75,558.00 1388.00,569.50 1400.25,582.60 1412.50,590.40 1424.75,598.20 1437.00,606.00 1449.25,613.80 1461.50,625.50 1473.75,628.10 1486.00,632.00 1498.25,639.80 1510.50,643.70 1522.75,647.60 1535.00,663.20 1547.25,686.60 1559.50,699.60 1571.75,685.30 1584.00,713.90 1596.25,720.40 1608.50,746.40 1620.75,781.50" fill="none" stroke="#0000ff" stroke-width="5" stroke-linecap="round" stroke-linejoin="round" shape-rendering="crispEdges"/>
<polyline points="163.00,890.40 175.25,909.50 187.50,898.60 199.75,906.00 212.00,903.40 224.25,889.50 236.50,867.30 248.75,849.10 261.00,840.00 273.25,820.40 285.50,776.20 297.75,771.00 310.00,791.80 322.25,823.00 334.50,837.50 346.75,851.80 359.00,837.50 371.25,840.00 383.50,840.70 395.75,811.00 408.00,785.00 420.25,765.00 432.50,752.50 444.75,772.00 457.00,762.00 469.25,774.00 481.50,743.00 493.75,752.00 506.00,749.50 518.25,746.30 530.50,731.60 542.75,729.00 555.00,747.20 567.25,734.00 579.50,717.40 591.75,712.20 604.00,703.10 616.25,682.30 628.50,682.30 640.75,674.50 653.00,642.00 665.25,620.00 677.50,605.20 689.75,597.00 702.00,594.40 714.25,594.40 726.50,598.30 738.75,586.30 751.00,591.50 763.25,598.00 775.50,590.20 787.75,588.90 800.00,569.40 812.25,569.40 824.50,555.10 836.75,557.70 849.00,553.80 861.25,511.80 873.50,512.90 885.75,484.00 898.00,464.10 910.25,453.70 922.50,429.00 934.75,443.30 947.00,456.30 959.25,462.10 971.50,466.70 983.75,453.70 996.00,468.00 1008.25,467.00 1020.50,470.60 1032.75,492.70 1045.00,485.00 1057.25,448.50 1069.50,440.00 1081.75,436.10 1094.00,437.40 1106.25,442.00 1118.50,443.30 1130.75,458.90 1143.00,466.10 1155.25,469.40 1167.50,468.10 1179.75,475.90 1192.00,462.20 1204.25,468.10 1216.50,465.50 1228.75,455.10 1241.00,468.70 1253.25,469.40 1265.50,473.30 1277.75,489.00 1290.00,469.50 1302.25,479.90 1314.50,515.00 1326.75,528.00 1339.00,543.60 1351.25,541.00 1363.50,554.00 1375.75,557.90 1388.00,567.00 1400.25,574.00 1412.50,580.50 1424.75,585.00 1437.00,580.80 1449.25,567.80 1461.50,582.10 1473.75,597.70 1486.00,618.50 1498.25,612.50 1510.50,610.70 1522.75,619.00 1535.00,622.90 1547.25,635.90 1559.50,651.50 1571.75,669.70 1584.00,686.60 1596.25,715.20 1608.50,759.40 1620.75,793.20" fill="none" stroke="#000000" stroke-width="5" stroke-linecap="round" stroke-linejoin="round" shape-rendering="crispEdges"/>
<polyline points="150.75,1017.50 163.00,1019.40 175.25,999.90 187.50,990.80 199.75,990.80 212.00,979.00 224.25,952.00 236.50,965.00 248.75,916.50 261.00,904.00 273.25,886.80 285.50,867.30 297.75,858.20 310.00,849.10 322.25,831.00 334.50,800.00 346.75,778.00 359.00,781.00 371.25,766.00 383.50,757.00 395.75,756.00 408.00,762.00 420.25,762.80 432.50,731.00 444.75,700.00 457.00,703.00 469.25,680.50 481.50,680.50 493.75,684.50 506.00,679.60 518.25,683.50 530.50,664.00 542.75,678.30 555.00,665.30 567.25,623.00 579.50,650.50 591.75,671.50 604.00,651.50 616.25,620.50 628.50,609.00 640.75,606.50 653.00,617.00 665.25,594.00 677.50,585.00 689.75,580.10 702.00,574.90 714.25,563.20 726.50,532.60 738.75,539.60 751.00,560.40 763.25,561.60 775.50,555.10 787.75,562.90 800.00,559.00 812.25,515.00 824.50,485.80 836.75,486.40 849.00,487.10 861.25,479.30 873.50,475.20 885.75,483.40 898.00,503.10 910.25,509.60 922.50,516.10 934.75,505.70 947.00,488.80 959.25,492.70 971.50,491.40 983.75,490.10 996.00,470.60 1008.25,474.50 1020.50,462.80 1032.75,456.30 1045.00,473.20 1057.25,478.40 1069.50,481.00 1081.75,486.20 1094.00,474.50 1106.25,499.20 1118.50,503.10 1130.75,507.00 1143.00,525.00 1155.25,539.00 1167.50,533.10 1179.75,520.10 1192.00,524.00 1204.25,534.40 1216.50,524.00 1228.75,535.70 1241.00,548.70 1253.25,553.90 1265.50,556.50 1277.75,560.50 1290.00,580.00 1302.25,596.90 1314.50,565.70 1326.75,560.50 1339.00,583.90 1351.25,590.20 1363.50,608.70 1375.75,611.30 1388.00,616.80" fill="none" stroke="#ff0000" stroke-width="7.5" stroke-linecap="round" stroke-linejoin="round" shape-rendering="crispEdges"/>
<rect x="78.5" y="78.5" width="1614" height="978" fill="none" stroke="#000" stroke-width="1" shape-rendering="crispEdges"/>
<g stroke="#000" stroke-width="1" shape-rendering="crispEdges"><line x1="138.5" y1="1057" x2="138.5" y2="1066"/><line x1="383.5" y1="1057" x2="383.5" y2="1066"/><line x1="628.5" y1="1057" x2="628.5" y2="1066"/><line x1="873.5" y1="1057" x2="873.5" y2="1066"/><line x1="1118.5" y1="1057" x2="1118.5" y2="1066"/><line x1="1363.5" y1="1057" x2="1363.5" y2="1066"/><line x1="1608.5" y1="1057" x2="1608.5" y2="1066"/><line x1="69" y1="992.5" x2="78" y2="992.5"/><line x1="69" y1="746.5" x2="78" y2="746.5"/><line x1="69" y1="500.5" x2="78" y2="500.5"/><line x1="69" y1="253.5" x2="78" y2="253.5"/></g>
<text x="138.5" y="1091" text-anchor="middle" font-size="16.5" font-family="Liberation Sans, sans-serif">0</text>
<text x="383.5" y="1091" text-anchor="middle" font-size="16.5" font-family="Liberation Sans, sans-serif">20</text>
<text x="628.5" y="1091" text-anchor="middle" font-size="16.5" font-family="Liberation Sans, sans-serif">40</text>
<text x="873.5" y="1091" text-anchor="middle" font-size="16.5" font-family="Liberation Sans, sans-serif">60</text>
<text x="1118.5" y="1091" text-anchor="middle" font-size="16.5" font-family="Liberation Sans, sans-serif">80</text>
<text x="1363.5" y="1091" text-anchor="middle" font-size="16.5" font-family="Liberation Sans, sans-serif">100</text>
<text x="1608.5" y="1091" text-anchor="middle" font-size="16.5" font-family="Liberation Sans, sans-serif">120</text>
<text transform="translate(57,992.5) rotate(-90)" x="0" y="0" text-anchor="middle" font-size="16.5" font-family="Liberation Sans, sans-serif">13</text>
<text transform="translate(57,746.5) rotate(-90)" x="0" y="0" text-anchor="middle" font-size="16.5" font-family="Liberation Sans, sans-serif">14</text>
<text transform="translate(57,500.5) rotate(-90)" x="0" y="0" text-anchor="middle" font-size="16.5" font-family="Liberation Sans, sans-serif">15</text>
<text transform="translate(57,253.5) rotate(-90)" x="0" y="0" text-anchor="middle" font-size="16.5" font-family="Liberation Sans, sans-serif">16</text>
<text x="885" y="47" text-anchor="middle" font-size="19.4" font-weight="bold" font-family="Liberation Sans, sans-serif">Arctic Sea Ice Extent Day 102 1978 to 2013</text>
<text x="884" y="1130" text-anchor="middle" font-size="15.8" font-family="Liberation Sans, sans-serif">Day of Year</text>
<text x="578" y="1148.5" font-size="15.68" font-family="Liberation Sans, sans-serif" xml:space="preserve">Today's Ice Area: 14.52635  - Record for the day: 15.58667 which occurred on 1979 4 12</text>
<text x="-0.5" y="1129.5" font-size="33" textLength="513.5" lengthAdjust="spacingAndGlyphs" font-family="Liberation Sans, sans-serif">http://sunshinehours.wordpress.com</text>
<text transform="translate(18.5,567) rotate(-90)" text-anchor="middle" font-size="15.8" font-family="Liberation Sans, sans-serif">Ice Extent in millions of sq. km.</text>
<rect x="1396.5" y="78.5" width="296" height="211" fill="none" stroke="#000" stroke-width="1" shape-rendering="crispEdges"/><line x1="1411.5" y1="97.4" x2="1440.5" y2="97.4" stroke="#ff0000" stroke-width="7" stroke-linecap="round"/><line x1="1411.5" y1="117.30000000000001" x2="1436.5" y2="117.30000000000001" stroke="#000" stroke-width="5.2" stroke-linecap="round" stroke-dasharray="5 15"/><polygon points="1411,126 1440,126 1450,133 1450,140 1445,146 1407.5,146 1401.5,140 1401.5,132" fill="#d3d3d3" shape-rendering="crispEdges"/><line x1="1411.5" y1="155.0" x2="1440.5" y2="155.0" stroke="#000000" stroke-width="5" stroke-linecap="round"/><line x1="1411.5" y1="174.2" x2="1440.5" y2="174.2" stroke="#ffa500" stroke-width="5" stroke-linecap="round"/><line x1="1411.5" y1="193.4" x2="1440.5" y2="193.4" stroke="#0000ff" stroke-width="5" stroke-linecap="round"/><line x1="1411.5" y1="212.6" x2="1440.5" y2="212.6" stroke="#00ff00" stroke-width="5" stroke-linecap="round"/><line x1="1411.5" y1="231.8" x2="1440.5" y2="231.8" stroke="#a020f0" stroke-width="5" stroke-linecap="round"/><line x1="1411.5" y1="251.0" x2="1440.5" y2="251.0" stroke="#ffff00" stroke-width="5" stroke-linecap="round"/><line x1="1411" y1="270.5" x2="1441" y2="270.5" stroke="#000" stroke-width="1" shape-rendering="crispEdges"/><text x="1453.5" y="104.9" font-size="15.8" font-family="Liberation Sans, sans-serif">2013</text><text x="1453.5" y="124.10000000000001" font-size="15.8" font-family="Liberation Sans, sans-serif">Mean 1981-2010</text><text x="1453.5" y="143.3" font-size="15.8" font-family="Liberation Sans, sans-serif">1 Standard Deviation From Mean</text><text x="1453.5" y="162.5" font-size="15.8" font-family="Liberation Sans, sans-serif">2012</text><text x="1453.5" y="181.7" font-size="15.8" font-family="Liberation Sans, sans-serif">2011</text><text x="1453.5" y="200.9" font-size="15.8" font-family="Liberation Sans, sans-serif">2010</text><text x="1453.5" y="220.1" font-size="15.8" font-family="Liberation Sans, sans-serif">2009</text><text x="1453.5" y="239.3" font-size="15.8" font-family="Liberation Sans, sans-serif">2008</text><text x="1453.5" y="258.5" font-size="15.8" font-family="Liberation Sans, sans-serif">2007</text><text x="1453.5" y="277.7" font-size="15.8" font-family="Liberation Sans, sans-serif">Every Other Year</text>
<line x1="1387.5" y1="79" x2="1387.5" y2="1056" stroke="#000" stroke-width="1" shape-rendering="crispEdges"/>
<text x="1398.5" y="622" font-size="16.3" fill="#ff0000" font-family="Liberation Sans, sans-serif">14.52635</text>
</svg></body></html>
